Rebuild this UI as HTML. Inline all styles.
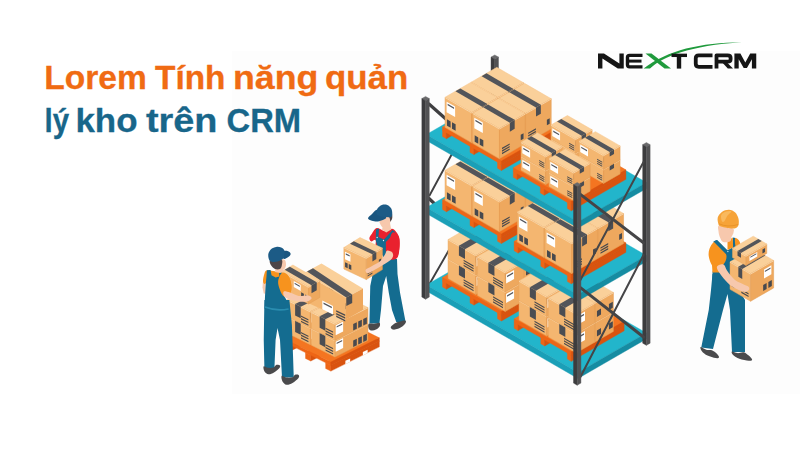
<!DOCTYPE html>
<html><head><meta charset="utf-8"><style>
html,body{margin:0;padding:0;background:#fff;}
body{width:800px;height:450px;overflow:hidden;position:relative;font-family:"Liberation Sans",sans-serif;}
svg{position:absolute;left:0;top:0;}
.t{position:absolute;left:48px;font-weight:bold;font-size:29px;white-space:nowrap;letter-spacing:-0.2px;}
</style></head><body>
<svg width="800" height="450" viewBox="0 0 800 450">
<rect width="800" height="450" fill="#ffffff"/>
<rect x="232" y="51" width="568" height="343" fill="#fdfdfd"/>
<polygon points="491.04,57.1 494.76,54.95 498.49,57.1 494.76,59.25" fill="#6a6a6c" stroke="#6a6a6c" stroke-width="0.4" stroke-linejoin="round"/>
<polygon points="491.04,57.1 494.76,59.25 494.76,257.75 491.04,255.6" fill="#3c3c3e" stroke="#3c3c3e" stroke-width="0.4" stroke-linejoin="round"/>
<polygon points="494.76,59.25 498.49,57.1 498.49,255.6 494.76,257.75" fill="#525254" stroke="#525254" stroke-width="0.4" stroke-linejoin="round"/>
<line x1="429" y1="104" x2="447" y2="120" stroke="#3f3f41" stroke-width="3.2" stroke-linecap="round"/>
<line x1="429.5" y1="195.5" x2="453" y2="152" stroke="#3f3f41" stroke-width="1.9" stroke-linecap="round"/>
<line x1="429" y1="198.5" x2="441" y2="210" stroke="#3f3f41" stroke-width="3.2" stroke-linecap="round"/>
<line x1="429.5" y1="284" x2="449" y2="250" stroke="#3f3f41" stroke-width="1.9" stroke-linecap="round"/>
<polygon points="426.43,285 494.85,245.5 646.4,333 577.99,372.5" fill="#22b5cb" stroke="#22b5cb" stroke-width="0.4" stroke-linejoin="round"/>
<polygon points="426.43,285 577.99,372.5 577.99,378.5 426.43,291" fill="#1a9fb7" stroke="#1a9fb7" stroke-width="0.4" stroke-linejoin="round"/>
<polygon points="577.99,372.5 646.4,333 646.4,339 577.99,378.5" fill="#158ca2" stroke="#158ca2" stroke-width="0.4" stroke-linejoin="round"/>
<polygon points="442.54,280.92 495.37,250.42 499.27,252.67 446.44,283.17" fill="#f47521" stroke="#f47521" stroke-width="0.4" stroke-linejoin="round"/>
<polygon points="442.54,280.92 446.44,283.17 446.44,289.25 442.54,287" fill="#ee6516" stroke="#ee6516" stroke-width="0.4" stroke-linejoin="round"/>
<polygon points="446.44,283.17 499.27,252.67 499.27,258.75 446.44,289.25" fill="#d9530f" stroke="#d9530f" stroke-width="0.4" stroke-linejoin="round"/>
<polygon points="470.04,296.8 522.87,266.3 526.76,268.55 473.94,299.05" fill="#f47521" stroke="#f47521" stroke-width="0.4" stroke-linejoin="round"/>
<polygon points="470.04,296.8 473.94,299.05 473.94,305.12 470.04,302.88" fill="#ee6516" stroke="#ee6516" stroke-width="0.4" stroke-linejoin="round"/>
<polygon points="473.94,299.05 526.76,268.55 526.76,274.62 473.94,305.12" fill="#d9530f" stroke="#d9530f" stroke-width="0.4" stroke-linejoin="round"/>
<polygon points="497.53,312.67 550.36,282.17 554.26,284.42 501.43,314.92" fill="#f47521" stroke="#f47521" stroke-width="0.4" stroke-linejoin="round"/>
<polygon points="497.53,312.67 501.43,314.92 501.43,321 497.53,318.75" fill="#ee6516" stroke="#ee6516" stroke-width="0.4" stroke-linejoin="round"/>
<polygon points="501.43,314.92 554.26,284.42 554.26,290.5 501.43,321" fill="#d9530f" stroke="#d9530f" stroke-width="0.4" stroke-linejoin="round"/>
<polygon points="442.54,277.5 495.37,247 554.26,281 501.43,311.5" fill="#f47521" stroke="#f47521" stroke-width="0.4" stroke-linejoin="round"/>
<polygon points="442.54,277.5 501.43,311.5 501.43,314.92 442.54,280.92" fill="#ee6516" stroke="#ee6516" stroke-width="0.4" stroke-linejoin="round"/>
<polygon points="501.43,311.5 554.26,281 554.26,284.42 501.43,314.92" fill="#d9530f" stroke="#d9530f" stroke-width="0.4" stroke-linejoin="round"/>
<polygon points="466.7,248.25 485.32,237.5 513.04,253.5 494.42,264.25" fill="#fad09a" stroke="#f6c58a" stroke-width="0.5" stroke-linejoin="round"/>
<polygon points="466.7,248.25 494.42,264.25 494.42,283.75 466.7,267.75" fill="#f4b670" stroke="#e9a75f" stroke-width="0.5" stroke-linejoin="round"/>
<polygon points="494.42,264.25 513.04,253.5 513.04,273 494.42,283.75" fill="#eea85e" stroke="#e39d54" stroke-width="0.5" stroke-linejoin="round"/>
<polyline points="466.7,248.55 494.42,264.55 513.04,253.8" fill="none" stroke="#fde2bd" stroke-width="0.7" stroke-linejoin="round"/>
<polygon points="477.53,254.5 496.15,243.75 502.21,247.25 483.59,258" fill="#53555a"/>
<polygon points="477.53,254.5 483.59,258 483.59,267.75 477.53,264.25" fill="#4b4d52"/>
<polygon points="496.58,272 500.65,269.65 500.65,275.65 496.58,278" fill="#47494e"/>
<polygon points="508.53,265.1 512.43,262.85 512.43,268.85 508.53,271.1" fill="#47494e"/>
<polygon points="466.7,228.75 485.32,218 513.04,234 494.42,244.75" fill="#fad09a" stroke="#f6c58a" stroke-width="0.5" stroke-linejoin="round"/>
<polygon points="466.7,228.75 494.42,244.75 494.42,264.25 466.7,248.25" fill="#f4b670" stroke="#e9a75f" stroke-width="0.5" stroke-linejoin="round"/>
<polygon points="494.42,244.75 513.04,234 513.04,253.5 494.42,264.25" fill="#eea85e" stroke="#e39d54" stroke-width="0.5" stroke-linejoin="round"/>
<polyline points="466.7,229.05 494.42,245.05 513.04,234.3" fill="none" stroke="#fde2bd" stroke-width="0.7" stroke-linejoin="round"/>
<polygon points="477.53,235 496.15,224.25 502.21,227.75 483.59,238.5" fill="#53555a"/>
<polygon points="477.53,235 483.59,238.5 483.59,248.25 477.53,244.75" fill="#4b4d52"/>
<polygon points="496.58,252.5 500.65,250.15 500.65,256.15 496.58,258.5" fill="#47494e"/>
<polygon points="508.53,245.6 512.43,243.35 512.43,249.35 508.53,251.6" fill="#47494e"/>
<polygon points="496.15,265.25 514.77,254.5 542.48,270.5 523.86,281.25" fill="#fad09a" stroke="#f6c58a" stroke-width="0.5" stroke-linejoin="round"/>
<polygon points="496.15,265.25 523.86,281.25 523.86,300.75 496.15,284.75" fill="#f4b670" stroke="#e9a75f" stroke-width="0.5" stroke-linejoin="round"/>
<polygon points="523.86,281.25 542.48,270.5 542.48,290 523.86,300.75" fill="#eea85e" stroke="#e39d54" stroke-width="0.5" stroke-linejoin="round"/>
<polyline points="496.15,265.55 523.86,281.55 542.48,270.8" fill="none" stroke="#fde2bd" stroke-width="0.7" stroke-linejoin="round"/>
<polygon points="506.97,271.5 525.59,260.75 531.66,264.25 513.04,275" fill="#53555a"/>
<polygon points="506.97,271.5 513.04,275 513.04,284.75 506.97,281.25" fill="#4b4d52"/>
<polygon points="526.03,289 530.1,286.65 530.1,292.65 526.03,295" fill="#47494e"/>
<polygon points="537.98,282.1 541.88,279.85 541.88,285.85 537.98,288.1" fill="#47494e"/>
<polygon points="496.15,245.75 514.77,235 542.48,251 523.86,261.75" fill="#fad09a" stroke="#f6c58a" stroke-width="0.5" stroke-linejoin="round"/>
<polygon points="496.15,245.75 523.86,261.75 523.86,281.25 496.15,265.25" fill="#f4b670" stroke="#e9a75f" stroke-width="0.5" stroke-linejoin="round"/>
<polygon points="523.86,261.75 542.48,251 542.48,270.5 523.86,281.25" fill="#eea85e" stroke="#e39d54" stroke-width="0.5" stroke-linejoin="round"/>
<polyline points="496.15,246.05 523.86,262.05 542.48,251.3" fill="none" stroke="#fde2bd" stroke-width="0.7" stroke-linejoin="round"/>
<polygon points="506.97,252 525.59,241.25 531.66,244.75 513.04,255.5" fill="#53555a"/>
<polygon points="506.97,252 513.04,255.5 513.04,265.25 506.97,261.75" fill="#4b4d52"/>
<polygon points="526.03,269.5 530.1,267.15 530.1,273.15 526.03,275.5" fill="#47494e"/>
<polygon points="537.98,262.6 541.88,260.35 541.88,266.35 537.98,268.6" fill="#47494e"/>
<polygon points="448.08,259 466.7,248.25 494.42,264.25 475.8,275" fill="#fad09a" stroke="#f6c58a" stroke-width="0.5" stroke-linejoin="round"/>
<polygon points="448.08,259 475.8,275 475.8,294.5 448.08,278.5" fill="#f4b670" stroke="#e9a75f" stroke-width="0.5" stroke-linejoin="round"/>
<polygon points="475.8,275 494.42,264.25 494.42,283.75 475.8,294.5" fill="#eea85e" stroke="#e39d54" stroke-width="0.5" stroke-linejoin="round"/>
<polyline points="448.08,259.3 475.8,275.3 494.42,264.55" fill="none" stroke="#fde2bd" stroke-width="0.7" stroke-linejoin="round"/>
<polygon points="458.91,265.25 477.53,254.5 483.59,258 464.97,268.75" fill="#53555a"/>
<polygon points="458.91,265.25 464.97,268.75 464.97,278.5 458.91,275" fill="#4b4d52"/>
<polygon points="476.66,277.1 484.63,272.5 484.63,281.5 476.66,286.1" fill="#ffffff"/>
<polygon points="477.62,278.25 483.68,274.75 483.68,276.25 477.62,279.75" fill="#55575d"/>
<polygon points="463.6,284.26 473.58,290.02 473.58,291.22 463.6,285.46" fill="#47494e"/>
<polygon points="463.6,281.76 473.58,287.52 473.58,288.72 463.6,282.96" fill="#47494e"/>
<polygon points="463.6,279.26 473.58,285.02 473.58,286.22 463.6,280.46" fill="#47494e"/>
<polygon points="448.08,239.5 466.7,228.75 494.42,244.75 475.8,255.5" fill="#fad09a" stroke="#f6c58a" stroke-width="0.5" stroke-linejoin="round"/>
<polygon points="448.08,239.5 475.8,255.5 475.8,275 448.08,259" fill="#f4b670" stroke="#e9a75f" stroke-width="0.5" stroke-linejoin="round"/>
<polygon points="475.8,255.5 494.42,244.75 494.42,264.25 475.8,275" fill="#eea85e" stroke="#e39d54" stroke-width="0.5" stroke-linejoin="round"/>
<polyline points="448.08,239.8 475.8,255.8 494.42,245.05" fill="none" stroke="#fde2bd" stroke-width="0.7" stroke-linejoin="round"/>
<polygon points="458.91,245.75 477.53,235 483.59,238.5 464.97,249.25" fill="#53555a"/>
<polygon points="458.91,245.75 464.97,249.25 464.97,259 458.91,255.5" fill="#4b4d52"/>
<polygon points="476.66,257.6 484.63,253 484.63,262 476.66,266.6" fill="#ffffff"/>
<polygon points="477.62,258.75 483.68,255.25 483.68,256.75 477.62,260.25" fill="#55575d"/>
<polygon points="463.6,264.76 473.58,270.52 473.58,271.72 463.6,265.96" fill="#47494e"/>
<polygon points="463.6,262.26 473.58,268.02 473.58,269.22 463.6,263.46" fill="#47494e"/>
<polygon points="463.6,259.76 473.58,265.52 473.58,266.72 463.6,260.96" fill="#47494e"/>
<polygon points="477.53,276 496.15,265.25 523.86,281.25 505.24,292" fill="#fad09a" stroke="#f6c58a" stroke-width="0.5" stroke-linejoin="round"/>
<polygon points="477.53,276 505.24,292 505.24,311.5 477.53,295.5" fill="#f4b670" stroke="#e9a75f" stroke-width="0.5" stroke-linejoin="round"/>
<polygon points="505.24,292 523.86,281.25 523.86,300.75 505.24,311.5" fill="#eea85e" stroke="#e39d54" stroke-width="0.5" stroke-linejoin="round"/>
<polyline points="477.53,276.3 505.24,292.3 523.86,281.55" fill="none" stroke="#fde2bd" stroke-width="0.7" stroke-linejoin="round"/>
<polygon points="488.35,282.25 506.97,271.5 513.04,275 494.42,285.75" fill="#53555a"/>
<polygon points="488.35,282.25 494.42,285.75 494.42,295.5 488.35,292" fill="#4b4d52"/>
<polygon points="506.11,294.1 514.08,289.5 514.08,298.5 506.11,303.1" fill="#ffffff"/>
<polygon points="507.06,295.25 513.12,291.75 513.12,293.25 507.06,296.75" fill="#55575d"/>
<polygon points="493.05,301.26 503.03,307.02 503.03,308.22 493.05,302.46" fill="#47494e"/>
<polygon points="493.05,298.76 503.03,304.52 503.03,305.72 493.05,299.96" fill="#47494e"/>
<polygon points="493.05,296.26 503.03,302.02 503.03,303.22 493.05,297.46" fill="#47494e"/>
<polygon points="477.53,256.5 496.15,245.75 523.86,261.75 505.24,272.5" fill="#fad09a" stroke="#f6c58a" stroke-width="0.5" stroke-linejoin="round"/>
<polygon points="477.53,256.5 505.24,272.5 505.24,292 477.53,276" fill="#f4b670" stroke="#e9a75f" stroke-width="0.5" stroke-linejoin="round"/>
<polygon points="505.24,272.5 523.86,261.75 523.86,281.25 505.24,292" fill="#eea85e" stroke="#e39d54" stroke-width="0.5" stroke-linejoin="round"/>
<polyline points="477.53,256.8 505.24,272.8 523.86,262.05" fill="none" stroke="#fde2bd" stroke-width="0.7" stroke-linejoin="round"/>
<polygon points="488.35,262.75 506.97,252 513.04,255.5 494.42,266.25" fill="#53555a"/>
<polygon points="488.35,262.75 494.42,266.25 494.42,276 488.35,272.5" fill="#4b4d52"/>
<polygon points="506.11,274.6 514.08,270 514.08,279 506.11,283.6" fill="#ffffff"/>
<polygon points="507.06,275.75 513.12,272.25 513.12,273.75 507.06,277.25" fill="#55575d"/>
<polygon points="493.05,281.76 503.03,287.52 503.03,288.72 493.05,282.96" fill="#47494e"/>
<polygon points="493.05,279.26 503.03,285.02 503.03,286.22 493.05,280.46" fill="#47494e"/>
<polygon points="493.05,276.76 503.03,282.52 503.03,283.72 493.05,277.96" fill="#47494e"/>
<polygon points="514.16,322.27 566.99,291.77 570.89,294.02 518.06,324.52" fill="#f47521" stroke="#f47521" stroke-width="0.4" stroke-linejoin="round"/>
<polygon points="514.16,322.27 518.06,324.52 518.06,330.6 514.16,328.35" fill="#ee6516" stroke="#ee6516" stroke-width="0.4" stroke-linejoin="round"/>
<polygon points="518.06,324.52 570.89,294.02 570.89,300.1 518.06,330.6" fill="#d9530f" stroke="#d9530f" stroke-width="0.4" stroke-linejoin="round"/>
<polygon points="540.79,337.65 593.62,307.15 597.52,309.4 544.69,339.9" fill="#f47521" stroke="#f47521" stroke-width="0.4" stroke-linejoin="round"/>
<polygon points="540.79,337.65 544.69,339.9 544.69,345.98 540.79,343.73" fill="#ee6516" stroke="#ee6516" stroke-width="0.4" stroke-linejoin="round"/>
<polygon points="544.69,339.9 597.52,309.4 597.52,315.48 544.69,345.98" fill="#d9530f" stroke="#d9530f" stroke-width="0.4" stroke-linejoin="round"/>
<polygon points="567.42,353.02 620.25,322.52 624.15,324.77 571.32,355.27" fill="#f47521" stroke="#f47521" stroke-width="0.4" stroke-linejoin="round"/>
<polygon points="567.42,353.02 571.32,355.27 571.32,361.35 567.42,359.1" fill="#ee6516" stroke="#ee6516" stroke-width="0.4" stroke-linejoin="round"/>
<polygon points="571.32,355.27 624.15,324.77 624.15,330.85 571.32,361.35" fill="#d9530f" stroke="#d9530f" stroke-width="0.4" stroke-linejoin="round"/>
<polygon points="514.16,318.85 566.99,288.35 624.15,321.35 571.32,351.85" fill="#f47521" stroke="#f47521" stroke-width="0.4" stroke-linejoin="round"/>
<polygon points="514.16,318.85 571.32,351.85 571.32,355.27 514.16,322.27" fill="#ee6516" stroke="#ee6516" stroke-width="0.4" stroke-linejoin="round"/>
<polygon points="571.32,351.85 624.15,321.35 624.15,324.77 571.32,355.27" fill="#d9530f" stroke="#d9530f" stroke-width="0.4" stroke-linejoin="round"/>
<polygon points="537.63,289.7 556.25,278.95 583.96,294.95 565.34,305.7" fill="#fad09a" stroke="#f6c58a" stroke-width="0.5" stroke-linejoin="round"/>
<polygon points="537.63,289.7 565.34,305.7 565.34,325.2 537.63,309.2" fill="#f4b670" stroke="#e9a75f" stroke-width="0.5" stroke-linejoin="round"/>
<polygon points="565.34,305.7 583.96,294.95 583.96,314.45 565.34,325.2" fill="#eea85e" stroke="#e39d54" stroke-width="0.5" stroke-linejoin="round"/>
<polyline points="537.63,290 565.34,306 583.96,295.25" fill="none" stroke="#fde2bd" stroke-width="0.7" stroke-linejoin="round"/>
<polygon points="548.46,295.95 567.08,285.2 573.14,288.7 554.52,299.45" fill="#53555a"/>
<polygon points="548.46,295.95 554.52,299.45 554.52,309.2 548.46,305.7" fill="#4b4d52"/>
<polygon points="567.51,313.45 571.58,311.1 571.58,317.1 567.51,319.45" fill="#47494e"/>
<polygon points="579.46,306.55 583.36,304.3 583.36,310.3 579.46,312.55" fill="#47494e"/>
<polygon points="537.63,270.2 556.25,259.45 583.96,275.45 565.34,286.2" fill="#fad09a" stroke="#f6c58a" stroke-width="0.5" stroke-linejoin="round"/>
<polygon points="537.63,270.2 565.34,286.2 565.34,305.7 537.63,289.7" fill="#f4b670" stroke="#e9a75f" stroke-width="0.5" stroke-linejoin="round"/>
<polygon points="565.34,286.2 583.96,275.45 583.96,294.95 565.34,305.7" fill="#eea85e" stroke="#e39d54" stroke-width="0.5" stroke-linejoin="round"/>
<polyline points="537.63,270.5 565.34,286.5 583.96,275.75" fill="none" stroke="#fde2bd" stroke-width="0.7" stroke-linejoin="round"/>
<polygon points="548.46,276.45 567.08,265.7 573.14,269.2 554.52,279.95" fill="#53555a"/>
<polygon points="548.46,276.45 554.52,279.95 554.52,289.7 548.46,286.2" fill="#4b4d52"/>
<polygon points="567.51,293.95 571.58,291.6 571.58,297.6 567.51,299.95" fill="#47494e"/>
<polygon points="579.46,287.05 583.36,284.8 583.36,290.8 579.46,293.05" fill="#47494e"/>
<polygon points="567.08,306.7 585.7,295.95 613.41,311.95 594.79,322.7" fill="#fad09a" stroke="#f6c58a" stroke-width="0.5" stroke-linejoin="round"/>
<polygon points="567.08,306.7 594.79,322.7 594.79,342.2 567.08,326.2" fill="#f4b670" stroke="#e9a75f" stroke-width="0.5" stroke-linejoin="round"/>
<polygon points="594.79,322.7 613.41,311.95 613.41,331.45 594.79,342.2" fill="#eea85e" stroke="#e39d54" stroke-width="0.5" stroke-linejoin="round"/>
<polyline points="567.08,307 594.79,323 613.41,312.25" fill="none" stroke="#fde2bd" stroke-width="0.7" stroke-linejoin="round"/>
<polygon points="577.9,312.95 596.52,302.2 602.58,305.7 583.96,316.45" fill="#53555a"/>
<polygon points="577.9,312.95 583.96,316.45 583.96,326.2 577.9,322.7" fill="#4b4d52"/>
<polygon points="596.95,330.45 601.02,328.1 601.02,334.1 596.95,336.45" fill="#47494e"/>
<polygon points="608.91,323.55 612.8,321.3 612.8,327.3 608.91,329.55" fill="#47494e"/>
<polygon points="567.08,287.2 585.7,276.45 613.41,292.45 594.79,303.2" fill="#fad09a" stroke="#f6c58a" stroke-width="0.5" stroke-linejoin="round"/>
<polygon points="567.08,287.2 594.79,303.2 594.79,322.7 567.08,306.7" fill="#f4b670" stroke="#e9a75f" stroke-width="0.5" stroke-linejoin="round"/>
<polygon points="594.79,303.2 613.41,292.45 613.41,311.95 594.79,322.7" fill="#eea85e" stroke="#e39d54" stroke-width="0.5" stroke-linejoin="round"/>
<polyline points="567.08,287.5 594.79,303.5 613.41,292.75" fill="none" stroke="#fde2bd" stroke-width="0.7" stroke-linejoin="round"/>
<polygon points="577.9,293.45 596.52,282.7 602.58,286.2 583.96,296.95" fill="#53555a"/>
<polygon points="577.9,293.45 583.96,296.95 583.96,306.7 577.9,303.2" fill="#4b4d52"/>
<polygon points="596.95,310.95 601.02,308.6 601.02,314.6 596.95,316.95" fill="#47494e"/>
<polygon points="608.91,304.05 612.8,301.8 612.8,307.8 608.91,310.05" fill="#47494e"/>
<polygon points="519.01,300.45 537.63,289.7 565.34,305.7 546.72,316.45" fill="#fad09a" stroke="#f6c58a" stroke-width="0.5" stroke-linejoin="round"/>
<polygon points="519.01,300.45 546.72,316.45 546.72,335.95 519.01,319.95" fill="#f4b670" stroke="#e9a75f" stroke-width="0.5" stroke-linejoin="round"/>
<polygon points="546.72,316.45 565.34,305.7 565.34,325.2 546.72,335.95" fill="#eea85e" stroke="#e39d54" stroke-width="0.5" stroke-linejoin="round"/>
<polyline points="519.01,300.75 546.72,316.75 565.34,306" fill="none" stroke="#fde2bd" stroke-width="0.7" stroke-linejoin="round"/>
<polygon points="529.84,306.7 548.46,295.95 554.52,299.45 535.9,310.2" fill="#53555a"/>
<polygon points="529.84,306.7 535.9,310.2 535.9,319.95 529.84,316.45" fill="#4b4d52"/>
<polygon points="547.59,318.55 555.56,313.95 555.56,322.95 547.59,327.55" fill="#ffffff"/>
<polygon points="548.54,319.7 554.61,316.2 554.61,317.7 548.54,321.2" fill="#55575d"/>
<polygon points="534.53,325.71 544.51,331.47 544.51,332.67 534.53,326.91" fill="#47494e"/>
<polygon points="534.53,323.21 544.51,328.97 544.51,330.17 534.53,324.41" fill="#47494e"/>
<polygon points="534.53,320.71 544.51,326.47 544.51,327.67 534.53,321.91" fill="#47494e"/>
<polygon points="519.01,280.95 537.63,270.2 565.34,286.2 546.72,296.95" fill="#fad09a" stroke="#f6c58a" stroke-width="0.5" stroke-linejoin="round"/>
<polygon points="519.01,280.95 546.72,296.95 546.72,316.45 519.01,300.45" fill="#f4b670" stroke="#e9a75f" stroke-width="0.5" stroke-linejoin="round"/>
<polygon points="546.72,296.95 565.34,286.2 565.34,305.7 546.72,316.45" fill="#eea85e" stroke="#e39d54" stroke-width="0.5" stroke-linejoin="round"/>
<polyline points="519.01,281.25 546.72,297.25 565.34,286.5" fill="none" stroke="#fde2bd" stroke-width="0.7" stroke-linejoin="round"/>
<polygon points="529.84,287.2 548.46,276.45 554.52,279.95 535.9,290.7" fill="#53555a"/>
<polygon points="529.84,287.2 535.9,290.7 535.9,300.45 529.84,296.95" fill="#4b4d52"/>
<polygon points="547.59,299.05 555.56,294.45 555.56,303.45 547.59,308.05" fill="#ffffff"/>
<polygon points="548.54,300.2 554.61,296.7 554.61,298.2 548.54,301.7" fill="#55575d"/>
<polygon points="534.53,306.21 544.51,311.97 544.51,313.17 534.53,307.41" fill="#47494e"/>
<polygon points="534.53,303.71 544.51,309.47 544.51,310.67 534.53,304.91" fill="#47494e"/>
<polygon points="534.53,301.21 544.51,306.97 544.51,308.17 534.53,302.41" fill="#47494e"/>
<polygon points="548.46,317.45 567.08,306.7 594.79,322.7 576.17,333.45" fill="#fad09a" stroke="#f6c58a" stroke-width="0.5" stroke-linejoin="round"/>
<polygon points="548.46,317.45 576.17,333.45 576.17,352.95 548.46,336.95" fill="#f4b670" stroke="#e9a75f" stroke-width="0.5" stroke-linejoin="round"/>
<polygon points="576.17,333.45 594.79,322.7 594.79,342.2 576.17,352.95" fill="#eea85e" stroke="#e39d54" stroke-width="0.5" stroke-linejoin="round"/>
<polyline points="548.46,317.75 576.17,333.75 594.79,323" fill="none" stroke="#fde2bd" stroke-width="0.7" stroke-linejoin="round"/>
<polygon points="559.28,323.7 577.9,312.95 583.96,316.45 565.34,327.2" fill="#53555a"/>
<polygon points="559.28,323.7 565.34,327.2 565.34,336.95 559.28,333.45" fill="#4b4d52"/>
<polygon points="577.04,335.55 585,330.95 585,339.95 577.04,344.55" fill="#ffffff"/>
<polygon points="577.99,336.7 584.05,333.2 584.05,334.7 577.99,338.2" fill="#55575d"/>
<polygon points="563.98,342.71 573.95,348.47 573.95,349.67 563.98,343.91" fill="#47494e"/>
<polygon points="563.98,340.21 573.95,345.97 573.95,347.17 563.98,341.41" fill="#47494e"/>
<polygon points="563.98,337.71 573.95,343.47 573.95,344.67 563.98,338.91" fill="#47494e"/>
<polygon points="548.46,297.95 567.08,287.2 594.79,303.2 576.17,313.95" fill="#fad09a" stroke="#f6c58a" stroke-width="0.5" stroke-linejoin="round"/>
<polygon points="548.46,297.95 576.17,313.95 576.17,333.45 548.46,317.45" fill="#f4b670" stroke="#e9a75f" stroke-width="0.5" stroke-linejoin="round"/>
<polygon points="576.17,313.95 594.79,303.2 594.79,322.7 576.17,333.45" fill="#eea85e" stroke="#e39d54" stroke-width="0.5" stroke-linejoin="round"/>
<polyline points="548.46,298.25 576.17,314.25 594.79,303.5" fill="none" stroke="#fde2bd" stroke-width="0.7" stroke-linejoin="round"/>
<polygon points="559.28,304.2 577.9,293.45 583.96,296.95 565.34,307.7" fill="#53555a"/>
<polygon points="559.28,304.2 565.34,307.7 565.34,317.45 559.28,313.95" fill="#4b4d52"/>
<polygon points="577.04,316.05 585,311.45 585,320.45 577.04,325.05" fill="#ffffff"/>
<polygon points="577.99,317.2 584.05,313.7 584.05,315.2 577.99,318.7" fill="#55575d"/>
<polygon points="563.98,323.21 573.95,328.97 573.95,330.17 563.98,324.41" fill="#47494e"/>
<polygon points="563.98,320.71 573.95,326.47 573.95,327.67 563.98,321.91" fill="#47494e"/>
<polygon points="563.98,318.21 573.95,323.97 573.95,325.17 563.98,319.41" fill="#47494e"/>
<polygon points="426.43,207.5 494.85,168 646.4,255.5 577.99,295" fill="#22b5cb" stroke="#22b5cb" stroke-width="0.4" stroke-linejoin="round"/>
<polygon points="426.43,207.5 577.99,295 577.99,301 426.43,213.5" fill="#1a9fb7" stroke="#1a9fb7" stroke-width="0.4" stroke-linejoin="round"/>
<polygon points="577.99,295 646.4,255.5 646.4,261.5 577.99,301" fill="#158ca2" stroke="#158ca2" stroke-width="0.4" stroke-linejoin="round"/>
<polygon points="442.54,203.42 497.1,171.92 501,174.17 446.44,205.67" fill="#f47521" stroke="#f47521" stroke-width="0.4" stroke-linejoin="round"/>
<polygon points="442.54,203.42 446.44,205.67 446.44,211.75 442.54,209.5" fill="#ee6516" stroke="#ee6516" stroke-width="0.4" stroke-linejoin="round"/>
<polygon points="446.44,205.67 501,174.17 501,180.25 446.44,211.75" fill="#d9530f" stroke="#d9530f" stroke-width="0.4" stroke-linejoin="round"/>
<polygon points="470.04,219.3 524.6,187.8 528.5,190.05 473.94,221.55" fill="#f47521" stroke="#f47521" stroke-width="0.4" stroke-linejoin="round"/>
<polygon points="470.04,219.3 473.94,221.55 473.94,227.62 470.04,225.38" fill="#ee6516" stroke="#ee6516" stroke-width="0.4" stroke-linejoin="round"/>
<polygon points="473.94,221.55 528.5,190.05 528.5,196.12 473.94,227.62" fill="#d9530f" stroke="#d9530f" stroke-width="0.4" stroke-linejoin="round"/>
<polygon points="497.53,235.17 552.09,203.67 555.99,205.92 501.43,237.42" fill="#f47521" stroke="#f47521" stroke-width="0.4" stroke-linejoin="round"/>
<polygon points="497.53,235.17 501.43,237.42 501.43,243.5 497.53,241.25" fill="#ee6516" stroke="#ee6516" stroke-width="0.4" stroke-linejoin="round"/>
<polygon points="501.43,237.42 555.99,205.92 555.99,212 501.43,243.5" fill="#d9530f" stroke="#d9530f" stroke-width="0.4" stroke-linejoin="round"/>
<polygon points="442.54,200 497.1,168.5 555.99,202.5 501.43,234" fill="#f47521" stroke="#f47521" stroke-width="0.4" stroke-linejoin="round"/>
<polygon points="442.54,200 501.43,234 501.43,237.42 442.54,203.42" fill="#ee6516" stroke="#ee6516" stroke-width="0.4" stroke-linejoin="round"/>
<polygon points="501.43,234 555.99,202.5 555.99,205.92 501.43,237.42" fill="#d9530f" stroke="#d9530f" stroke-width="0.4" stroke-linejoin="round"/>
<polygon points="471.21,155.15 496.84,140.35 523.52,155.75 497.88,170.55" fill="#fad09a" stroke="#f6c58a" stroke-width="0.5" stroke-linejoin="round"/>
<polygon points="471.21,155.15 497.88,170.55 497.88,200.55 471.21,185.15" fill="#f4b670" stroke="#e9a75f" stroke-width="0.5" stroke-linejoin="round"/>
<polygon points="497.88,170.55 523.52,155.75 523.52,185.75 497.88,200.55" fill="#eea85e" stroke="#e39d54" stroke-width="0.5" stroke-linejoin="round"/>
<polyline points="471.21,155.45 497.88,170.85 523.52,156.05" fill="none" stroke="#fde2bd" stroke-width="0.7" stroke-linejoin="round"/>
<polygon points="481.6,149.15 486.45,146.35 513.12,161.75 508.27,164.55" fill="#53555a"/>
<polygon points="508.27,164.55 513.12,161.75 513.12,170.75 508.27,173.55" fill="#4b4d52"/>
<polygon points="472.77,159.55 481.25,164.45 481.25,174.95 472.77,170.05" fill="#ffffff"/>
<polygon points="473.81,161.65 480.21,165.35 480.21,166.95 473.81,163.25" fill="#55575d"/>
<polygon points="473.11,177.25 476.75,179.35 476.75,185.75 473.11,183.65" fill="#47494e"/>
<polygon points="478.14,180.15 481.77,182.25 481.77,188.65 478.14,186.55" fill="#47494e"/>
<polygon points="500.44,194.77 508.13,190.33 508.13,191.63 500.44,196.07" fill="#47494e"/>
<polygon points="500.44,192.27 508.13,187.83 508.13,189.13 500.44,193.57" fill="#47494e"/>
<polygon points="500.44,189.77 508.13,185.33 508.13,186.63 500.44,191.07" fill="#47494e"/>
<polygon points="519.16,176.77 521.98,175.14 521.98,180.64 519.16,182.27" fill="#47494e"/>
<polygon points="498.92,171.15 524.55,156.35 551.23,171.75 525.59,186.55" fill="#fad09a" stroke="#f6c58a" stroke-width="0.5" stroke-linejoin="round"/>
<polygon points="498.92,171.15 525.59,186.55 525.59,216.55 498.92,201.15" fill="#f4b670" stroke="#e9a75f" stroke-width="0.5" stroke-linejoin="round"/>
<polygon points="525.59,186.55 551.23,171.75 551.23,201.75 525.59,216.55" fill="#eea85e" stroke="#e39d54" stroke-width="0.5" stroke-linejoin="round"/>
<polyline points="498.92,171.45 525.59,186.85 551.23,172.05" fill="none" stroke="#fde2bd" stroke-width="0.7" stroke-linejoin="round"/>
<polygon points="509.31,165.15 514.16,162.35 540.84,177.75 535.99,180.55" fill="#53555a"/>
<polygon points="535.99,180.55 540.84,177.75 540.84,186.75 535.99,189.55" fill="#4b4d52"/>
<polygon points="500.48,175.55 508.97,180.45 508.97,190.95 500.48,186.05" fill="#ffffff"/>
<polygon points="501.52,177.65 507.93,181.35 507.93,182.95 501.52,179.25" fill="#55575d"/>
<polygon points="500.83,193.25 504.46,195.35 504.46,201.75 500.83,199.65" fill="#47494e"/>
<polygon points="505.85,196.15 509.49,198.25 509.49,204.65 505.85,202.55" fill="#47494e"/>
<polygon points="528.16,210.77 535.85,206.33 535.85,207.63 528.16,212.07" fill="#47494e"/>
<polygon points="528.16,208.27 535.85,203.83 535.85,205.13 528.16,209.57" fill="#47494e"/>
<polygon points="528.16,205.77 535.85,201.33 535.85,202.63 528.16,207.07" fill="#47494e"/>
<polygon points="546.87,192.77 549.69,191.14 549.69,196.64 546.87,198.27" fill="#47494e"/>
<polygon points="445.05,170.25 470.69,155.45 497.36,170.85 471.73,185.65" fill="#fad09a" stroke="#f6c58a" stroke-width="0.5" stroke-linejoin="round"/>
<polygon points="445.05,170.25 471.73,185.65 471.73,215.65 445.05,200.25" fill="#f4b670" stroke="#e9a75f" stroke-width="0.5" stroke-linejoin="round"/>
<polygon points="471.73,185.65 497.36,170.85 497.36,200.85 471.73,215.65" fill="#eea85e" stroke="#e39d54" stroke-width="0.5" stroke-linejoin="round"/>
<polyline points="445.05,170.55 471.73,185.95 497.36,171.15" fill="none" stroke="#fde2bd" stroke-width="0.7" stroke-linejoin="round"/>
<polygon points="455.45,164.25 460.3,161.45 486.97,176.85 482.12,179.65" fill="#53555a"/>
<polygon points="482.12,179.65 486.97,176.85 486.97,185.85 482.12,188.65" fill="#4b4d52"/>
<polygon points="446.61,174.65 455.1,179.55 455.1,190.05 446.61,185.15" fill="#ffffff"/>
<polygon points="447.65,176.75 454.06,180.45 454.06,182.05 447.65,178.35" fill="#55575d"/>
<polygon points="446.96,192.35 450.6,194.45 450.6,200.85 446.96,198.75" fill="#47494e"/>
<polygon points="451.98,195.25 455.62,197.35 455.62,203.75 451.98,201.65" fill="#47494e"/>
<polygon points="474.29,209.87 481.98,205.43 481.98,206.73 474.29,211.17" fill="#47494e"/>
<polygon points="474.29,207.37 481.98,202.93 481.98,204.23 474.29,208.67" fill="#47494e"/>
<polygon points="474.29,204.87 481.98,200.43 481.98,201.73 474.29,206.17" fill="#47494e"/>
<polygon points="493,191.87 495.82,190.24 495.82,195.74 493,197.37" fill="#47494e"/>
<polygon points="472.77,186.25 498.4,171.45 525.07,186.85 499.44,201.65" fill="#fad09a" stroke="#f6c58a" stroke-width="0.5" stroke-linejoin="round"/>
<polygon points="472.77,186.25 499.44,201.65 499.44,231.65 472.77,216.25" fill="#f4b670" stroke="#e9a75f" stroke-width="0.5" stroke-linejoin="round"/>
<polygon points="499.44,201.65 525.07,186.85 525.07,216.85 499.44,231.65" fill="#eea85e" stroke="#e39d54" stroke-width="0.5" stroke-linejoin="round"/>
<polyline points="472.77,186.55 499.44,201.95 525.07,187.15" fill="none" stroke="#fde2bd" stroke-width="0.7" stroke-linejoin="round"/>
<polygon points="483.16,180.25 488.01,177.45 514.68,192.85 509.83,195.65" fill="#53555a"/>
<polygon points="509.83,195.65 514.68,192.85 514.68,201.85 509.83,204.65" fill="#4b4d52"/>
<polygon points="474.33,190.65 482.81,195.55 482.81,206.05 474.33,201.15" fill="#ffffff"/>
<polygon points="475.36,192.75 481.77,196.45 481.77,198.05 475.36,194.35" fill="#55575d"/>
<polygon points="474.67,208.35 478.31,210.45 478.31,216.85 474.67,214.75" fill="#47494e"/>
<polygon points="479.69,211.25 483.33,213.35 483.33,219.75 479.69,217.65" fill="#47494e"/>
<polygon points="502,225.87 509.69,221.43 509.69,222.73 502,227.17" fill="#47494e"/>
<polygon points="502,223.37 509.69,218.93 509.69,220.23 502,224.67" fill="#47494e"/>
<polygon points="502,220.87 509.69,216.43 509.69,217.73 502,222.17" fill="#47494e"/>
<polygon points="520.72,207.87 523.54,206.24 523.54,211.74 520.72,213.37" fill="#47494e"/>
<polygon points="514.16,244.77 568.72,213.27 572.62,215.52 518.06,247.02" fill="#f47521" stroke="#f47521" stroke-width="0.4" stroke-linejoin="round"/>
<polygon points="514.16,244.77 518.06,247.02 518.06,253.1 514.16,250.85" fill="#ee6516" stroke="#ee6516" stroke-width="0.4" stroke-linejoin="round"/>
<polygon points="518.06,247.02 572.62,215.52 572.62,221.6 518.06,253.1" fill="#d9530f" stroke="#d9530f" stroke-width="0.4" stroke-linejoin="round"/>
<polygon points="540.79,260.15 595.35,228.65 599.25,230.9 544.69,262.4" fill="#f47521" stroke="#f47521" stroke-width="0.4" stroke-linejoin="round"/>
<polygon points="540.79,260.15 544.69,262.4 544.69,268.48 540.79,266.23" fill="#ee6516" stroke="#ee6516" stroke-width="0.4" stroke-linejoin="round"/>
<polygon points="544.69,262.4 599.25,230.9 599.25,236.98 544.69,268.48" fill="#d9530f" stroke="#d9530f" stroke-width="0.4" stroke-linejoin="round"/>
<polygon points="567.42,275.52 621.98,244.02 625.88,246.27 571.32,277.77" fill="#f47521" stroke="#f47521" stroke-width="0.4" stroke-linejoin="round"/>
<polygon points="567.42,275.52 571.32,277.77 571.32,283.85 567.42,281.6" fill="#ee6516" stroke="#ee6516" stroke-width="0.4" stroke-linejoin="round"/>
<polygon points="571.32,277.77 625.88,246.27 625.88,252.35 571.32,283.85" fill="#d9530f" stroke="#d9530f" stroke-width="0.4" stroke-linejoin="round"/>
<polygon points="514.16,241.35 568.72,209.85 625.88,242.85 571.32,274.35" fill="#f47521" stroke="#f47521" stroke-width="0.4" stroke-linejoin="round"/>
<polygon points="514.16,241.35 571.32,274.35 571.32,277.77 514.16,244.77" fill="#ee6516" stroke="#ee6516" stroke-width="0.4" stroke-linejoin="round"/>
<polygon points="571.32,274.35 625.88,242.85 625.88,246.27 571.32,277.77" fill="#d9530f" stroke="#d9530f" stroke-width="0.4" stroke-linejoin="round"/>
<polygon points="543.52,196.9 569.15,182.1 595.83,197.5 570.19,212.3" fill="#fad09a" stroke="#f6c58a" stroke-width="0.5" stroke-linejoin="round"/>
<polygon points="543.52,196.9 570.19,212.3 570.19,242.3 543.52,226.9" fill="#f4b670" stroke="#e9a75f" stroke-width="0.5" stroke-linejoin="round"/>
<polygon points="570.19,212.3 595.83,197.5 595.83,227.5 570.19,242.3" fill="#eea85e" stroke="#e39d54" stroke-width="0.5" stroke-linejoin="round"/>
<polyline points="543.52,197.2 570.19,212.6 595.83,197.8" fill="none" stroke="#fde2bd" stroke-width="0.7" stroke-linejoin="round"/>
<polygon points="553.91,190.9 558.76,188.1 585.44,203.5 580.59,206.3" fill="#53555a"/>
<polygon points="580.59,206.3 585.44,203.5 585.44,212.5 580.59,215.3" fill="#4b4d52"/>
<polygon points="545.08,201.3 553.57,206.2 553.57,216.7 545.08,211.8" fill="#ffffff"/>
<polygon points="546.12,203.4 552.53,207.1 552.53,208.7 546.12,205" fill="#55575d"/>
<polygon points="545.43,219 549.06,221.1 549.06,227.5 545.43,225.4" fill="#47494e"/>
<polygon points="550.45,221.9 554.09,224 554.09,230.4 550.45,228.3" fill="#47494e"/>
<polygon points="572.76,236.52 580.45,232.08 580.45,233.38 572.76,237.82" fill="#47494e"/>
<polygon points="572.76,234.02 580.45,229.58 580.45,230.88 572.76,235.32" fill="#47494e"/>
<polygon points="572.76,231.52 580.45,227.08 580.45,228.38 572.76,232.82" fill="#47494e"/>
<polygon points="591.47,218.52 594.29,216.89 594.29,222.39 591.47,224.02" fill="#47494e"/>
<polygon points="571.23,212.9 596.87,198.1 623.54,213.5 597.91,228.3" fill="#fad09a" stroke="#f6c58a" stroke-width="0.5" stroke-linejoin="round"/>
<polygon points="571.23,212.9 597.91,228.3 597.91,258.3 571.23,242.9" fill="#f4b670" stroke="#e9a75f" stroke-width="0.5" stroke-linejoin="round"/>
<polygon points="597.91,228.3 623.54,213.5 623.54,243.5 597.91,258.3" fill="#eea85e" stroke="#e39d54" stroke-width="0.5" stroke-linejoin="round"/>
<polyline points="571.23,213.2 597.91,228.6 623.54,213.8" fill="none" stroke="#fde2bd" stroke-width="0.7" stroke-linejoin="round"/>
<polygon points="581.63,206.9 586.48,204.1 613.15,219.5 608.3,222.3" fill="#53555a"/>
<polygon points="608.3,222.3 613.15,219.5 613.15,228.5 608.3,231.3" fill="#4b4d52"/>
<polygon points="572.79,217.3 581.28,222.2 581.28,232.7 572.79,227.8" fill="#ffffff"/>
<polygon points="573.83,219.4 580.24,223.1 580.24,224.7 573.83,221" fill="#55575d"/>
<polygon points="573.14,235 576.78,237.1 576.78,243.5 573.14,241.4" fill="#47494e"/>
<polygon points="578.16,237.9 581.8,240 581.8,246.4 578.16,244.3" fill="#47494e"/>
<polygon points="600.47,252.52 608.16,248.08 608.16,249.38 600.47,253.82" fill="#47494e"/>
<polygon points="600.47,250.02 608.16,245.58 608.16,246.88 600.47,251.32" fill="#47494e"/>
<polygon points="600.47,247.52 608.16,243.08 608.16,244.38 600.47,248.82" fill="#47494e"/>
<polygon points="619.18,234.52 622,232.89 622,238.39 619.18,240.02" fill="#47494e"/>
<polygon points="517.37,212 543,197.2 569.67,212.6 544.04,227.4" fill="#fad09a" stroke="#f6c58a" stroke-width="0.5" stroke-linejoin="round"/>
<polygon points="517.37,212 544.04,227.4 544.04,257.4 517.37,242" fill="#f4b670" stroke="#e9a75f" stroke-width="0.5" stroke-linejoin="round"/>
<polygon points="544.04,227.4 569.67,212.6 569.67,242.6 544.04,257.4" fill="#eea85e" stroke="#e39d54" stroke-width="0.5" stroke-linejoin="round"/>
<polyline points="517.37,212.3 544.04,227.7 569.67,212.9" fill="none" stroke="#fde2bd" stroke-width="0.7" stroke-linejoin="round"/>
<polygon points="527.76,206 532.61,203.2 559.28,218.6 554.43,221.4" fill="#53555a"/>
<polygon points="554.43,221.4 559.28,218.6 559.28,227.6 554.43,230.4" fill="#4b4d52"/>
<polygon points="518.93,216.4 527.41,221.3 527.41,231.8 518.93,226.9" fill="#ffffff"/>
<polygon points="519.96,218.5 526.37,222.2 526.37,223.8 519.96,220.1" fill="#55575d"/>
<polygon points="519.27,234.1 522.91,236.2 522.91,242.6 519.27,240.5" fill="#47494e"/>
<polygon points="524.29,237 527.93,239.1 527.93,245.5 524.29,243.4" fill="#47494e"/>
<polygon points="546.6,251.62 554.29,247.18 554.29,248.48 546.6,252.92" fill="#47494e"/>
<polygon points="546.6,249.12 554.29,244.68 554.29,245.98 546.6,250.42" fill="#47494e"/>
<polygon points="546.6,246.62 554.29,242.18 554.29,243.48 546.6,247.92" fill="#47494e"/>
<polygon points="565.32,233.62 568.14,231.99 568.14,237.49 565.32,239.12" fill="#47494e"/>
<polygon points="545.08,228 570.71,213.2 597.39,228.6 571.75,243.4" fill="#fad09a" stroke="#f6c58a" stroke-width="0.5" stroke-linejoin="round"/>
<polygon points="545.08,228 571.75,243.4 571.75,273.4 545.08,258" fill="#f4b670" stroke="#e9a75f" stroke-width="0.5" stroke-linejoin="round"/>
<polygon points="571.75,243.4 597.39,228.6 597.39,258.6 571.75,273.4" fill="#eea85e" stroke="#e39d54" stroke-width="0.5" stroke-linejoin="round"/>
<polyline points="545.08,228.3 571.75,243.7 597.39,228.9" fill="none" stroke="#fde2bd" stroke-width="0.7" stroke-linejoin="round"/>
<polygon points="555.47,222 560.32,219.2 587,234.6 582.15,237.4" fill="#53555a"/>
<polygon points="582.15,237.4 587,234.6 587,243.6 582.15,246.4" fill="#4b4d52"/>
<polygon points="546.64,232.4 555.13,237.3 555.13,247.8 546.64,242.9" fill="#ffffff"/>
<polygon points="547.68,234.5 554.09,238.2 554.09,239.8 547.68,236.1" fill="#55575d"/>
<polygon points="546.98,250.1 550.62,252.2 550.62,258.6 546.98,256.5" fill="#47494e"/>
<polygon points="552.01,253 555.64,255.1 555.64,261.5 552.01,259.4" fill="#47494e"/>
<polygon points="574.32,267.62 582.01,263.18 582.01,264.48 574.32,268.92" fill="#47494e"/>
<polygon points="574.32,265.12 582.01,260.68 582.01,261.98 574.32,266.42" fill="#47494e"/>
<polygon points="574.32,262.62 582.01,258.18 582.01,259.48 574.32,263.92" fill="#47494e"/>
<polygon points="593.03,249.62 595.85,247.99 595.85,253.49 593.03,255.12" fill="#47494e"/>
<polygon points="426.43,134.5 494.85,95 646.4,182.5 577.99,222" fill="#22b5cb" stroke="#22b5cb" stroke-width="0.4" stroke-linejoin="round"/>
<polygon points="426.43,134.5 577.99,222 577.99,228 426.43,140.5" fill="#1a9fb7" stroke="#1a9fb7" stroke-width="0.4" stroke-linejoin="round"/>
<polygon points="577.99,222 646.4,182.5 646.4,188.5 577.99,228" fill="#158ca2" stroke="#158ca2" stroke-width="0.4" stroke-linejoin="round"/>
<polygon points="442.54,130.42 497.1,98.92 501,101.17 446.44,132.67" fill="#f47521" stroke="#f47521" stroke-width="0.4" stroke-linejoin="round"/>
<polygon points="442.54,130.42 446.44,132.67 446.44,138.75 442.54,136.5" fill="#ee6516" stroke="#ee6516" stroke-width="0.4" stroke-linejoin="round"/>
<polygon points="446.44,132.67 501,101.17 501,107.25 446.44,138.75" fill="#d9530f" stroke="#d9530f" stroke-width="0.4" stroke-linejoin="round"/>
<polygon points="470.04,146.29 524.6,114.79 528.5,117.04 473.94,148.54" fill="#f47521" stroke="#f47521" stroke-width="0.4" stroke-linejoin="round"/>
<polygon points="470.04,146.29 473.94,148.54 473.94,154.62 470.04,152.38" fill="#ee6516" stroke="#ee6516" stroke-width="0.4" stroke-linejoin="round"/>
<polygon points="473.94,148.54 528.5,117.04 528.5,123.12 473.94,154.62" fill="#d9530f" stroke="#d9530f" stroke-width="0.4" stroke-linejoin="round"/>
<polygon points="497.53,162.17 552.09,130.67 555.99,132.92 501.43,164.42" fill="#f47521" stroke="#f47521" stroke-width="0.4" stroke-linejoin="round"/>
<polygon points="497.53,162.17 501.43,164.42 501.43,170.5 497.53,168.25" fill="#ee6516" stroke="#ee6516" stroke-width="0.4" stroke-linejoin="round"/>
<polygon points="501.43,164.42 555.99,132.92 555.99,139 501.43,170.5" fill="#d9530f" stroke="#d9530f" stroke-width="0.4" stroke-linejoin="round"/>
<polygon points="442.54,127 497.1,95.5 555.99,129.5 501.43,161" fill="#f47521" stroke="#f47521" stroke-width="0.4" stroke-linejoin="round"/>
<polygon points="442.54,127 501.43,161 501.43,164.42 442.54,130.42" fill="#ee6516" stroke="#ee6516" stroke-width="0.4" stroke-linejoin="round"/>
<polygon points="501.43,161 555.99,129.5 555.99,132.92 501.43,164.42" fill="#d9530f" stroke="#d9530f" stroke-width="0.4" stroke-linejoin="round"/>
<polygon points="471.21,82.15 496.84,67.35 523.52,82.75 497.88,97.55" fill="#fad09a" stroke="#f6c58a" stroke-width="0.5" stroke-linejoin="round"/>
<polygon points="471.21,82.15 497.88,97.55 497.88,127.55 471.21,112.15" fill="#f4b670" stroke="#e9a75f" stroke-width="0.5" stroke-linejoin="round"/>
<polygon points="497.88,97.55 523.52,82.75 523.52,112.75 497.88,127.55" fill="#eea85e" stroke="#e39d54" stroke-width="0.5" stroke-linejoin="round"/>
<polyline points="471.21,82.45 497.88,97.85 523.52,83.05" fill="none" stroke="#fde2bd" stroke-width="0.7" stroke-linejoin="round"/>
<polygon points="481.6,76.15 486.45,73.35 513.12,88.75 508.27,91.55" fill="#53555a"/>
<polygon points="508.27,91.55 513.12,88.75 513.12,97.75 508.27,100.55" fill="#4b4d52"/>
<polygon points="472.77,86.55 481.25,91.45 481.25,101.95 472.77,97.05" fill="#ffffff"/>
<polygon points="473.81,88.65 480.21,92.35 480.21,93.95 473.81,90.25" fill="#55575d"/>
<polygon points="473.11,104.25 476.75,106.35 476.75,112.75 473.11,110.65" fill="#47494e"/>
<polygon points="478.14,107.15 481.77,109.25 481.77,115.65 478.14,113.55" fill="#47494e"/>
<polygon points="500.44,121.77 508.13,117.33 508.13,118.63 500.44,123.07" fill="#47494e"/>
<polygon points="500.44,119.27 508.13,114.83 508.13,116.13 500.44,120.57" fill="#47494e"/>
<polygon points="500.44,116.77 508.13,112.33 508.13,113.63 500.44,118.07" fill="#47494e"/>
<polygon points="519.16,103.77 521.98,102.14 521.98,107.64 519.16,109.27" fill="#47494e"/>
<polygon points="498.92,98.15 524.55,83.35 551.23,98.75 525.59,113.55" fill="#fad09a" stroke="#f6c58a" stroke-width="0.5" stroke-linejoin="round"/>
<polygon points="498.92,98.15 525.59,113.55 525.59,143.55 498.92,128.15" fill="#f4b670" stroke="#e9a75f" stroke-width="0.5" stroke-linejoin="round"/>
<polygon points="525.59,113.55 551.23,98.75 551.23,128.75 525.59,143.55" fill="#eea85e" stroke="#e39d54" stroke-width="0.5" stroke-linejoin="round"/>
<polyline points="498.92,98.45 525.59,113.85 551.23,99.05" fill="none" stroke="#fde2bd" stroke-width="0.7" stroke-linejoin="round"/>
<polygon points="509.31,92.15 514.16,89.35 540.84,104.75 535.99,107.55" fill="#53555a"/>
<polygon points="535.99,107.55 540.84,104.75 540.84,113.75 535.99,116.55" fill="#4b4d52"/>
<polygon points="500.48,102.55 508.97,107.45 508.97,117.95 500.48,113.05" fill="#ffffff"/>
<polygon points="501.52,104.65 507.93,108.35 507.93,109.95 501.52,106.25" fill="#55575d"/>
<polygon points="500.83,120.25 504.46,122.35 504.46,128.75 500.83,126.65" fill="#47494e"/>
<polygon points="505.85,123.15 509.49,125.25 509.49,131.65 505.85,129.55" fill="#47494e"/>
<polygon points="528.16,137.77 535.85,133.33 535.85,134.63 528.16,139.07" fill="#47494e"/>
<polygon points="528.16,135.27 535.85,130.83 535.85,132.13 528.16,136.57" fill="#47494e"/>
<polygon points="528.16,132.77 535.85,128.33 535.85,129.63 528.16,134.07" fill="#47494e"/>
<polygon points="546.87,119.77 549.69,118.14 549.69,123.64 546.87,125.27" fill="#47494e"/>
<polygon points="445.05,97.25 470.69,82.45 497.36,97.85 471.73,112.65" fill="#fad09a" stroke="#f6c58a" stroke-width="0.5" stroke-linejoin="round"/>
<polygon points="445.05,97.25 471.73,112.65 471.73,142.65 445.05,127.25" fill="#f4b670" stroke="#e9a75f" stroke-width="0.5" stroke-linejoin="round"/>
<polygon points="471.73,112.65 497.36,97.85 497.36,127.85 471.73,142.65" fill="#eea85e" stroke="#e39d54" stroke-width="0.5" stroke-linejoin="round"/>
<polyline points="445.05,97.55 471.73,112.95 497.36,98.15" fill="none" stroke="#fde2bd" stroke-width="0.7" stroke-linejoin="round"/>
<polygon points="455.45,91.25 460.3,88.45 486.97,103.85 482.12,106.65" fill="#53555a"/>
<polygon points="482.12,106.65 486.97,103.85 486.97,112.85 482.12,115.65" fill="#4b4d52"/>
<polygon points="446.61,101.65 455.1,106.55 455.1,117.05 446.61,112.15" fill="#ffffff"/>
<polygon points="447.65,103.75 454.06,107.45 454.06,109.05 447.65,105.35" fill="#55575d"/>
<polygon points="446.96,119.35 450.6,121.45 450.6,127.85 446.96,125.75" fill="#47494e"/>
<polygon points="451.98,122.25 455.62,124.35 455.62,130.75 451.98,128.65" fill="#47494e"/>
<polygon points="474.29,136.87 481.98,132.43 481.98,133.73 474.29,138.17" fill="#47494e"/>
<polygon points="474.29,134.37 481.98,129.93 481.98,131.23 474.29,135.67" fill="#47494e"/>
<polygon points="474.29,131.87 481.98,127.43 481.98,128.73 474.29,133.17" fill="#47494e"/>
<polygon points="493,118.87 495.82,117.24 495.82,122.74 493,124.37" fill="#47494e"/>
<polygon points="472.77,113.25 498.4,98.45 525.07,113.85 499.44,128.65" fill="#fad09a" stroke="#f6c58a" stroke-width="0.5" stroke-linejoin="round"/>
<polygon points="472.77,113.25 499.44,128.65 499.44,158.65 472.77,143.25" fill="#f4b670" stroke="#e9a75f" stroke-width="0.5" stroke-linejoin="round"/>
<polygon points="499.44,128.65 525.07,113.85 525.07,143.85 499.44,158.65" fill="#eea85e" stroke="#e39d54" stroke-width="0.5" stroke-linejoin="round"/>
<polyline points="472.77,113.55 499.44,128.95 525.07,114.15" fill="none" stroke="#fde2bd" stroke-width="0.7" stroke-linejoin="round"/>
<polygon points="483.16,107.25 488.01,104.45 514.68,119.85 509.83,122.65" fill="#53555a"/>
<polygon points="509.83,122.65 514.68,119.85 514.68,128.85 509.83,131.65" fill="#4b4d52"/>
<polygon points="474.33,117.65 482.81,122.55 482.81,133.05 474.33,128.15" fill="#ffffff"/>
<polygon points="475.36,119.75 481.77,123.45 481.77,125.05 475.36,121.35" fill="#55575d"/>
<polygon points="474.67,135.35 478.31,137.45 478.31,143.85 474.67,141.75" fill="#47494e"/>
<polygon points="479.69,138.25 483.33,140.35 483.33,146.75 479.69,144.65" fill="#47494e"/>
<polygon points="502,152.87 509.69,148.43 509.69,149.73 502,154.17" fill="#47494e"/>
<polygon points="502,150.37 509.69,145.93 509.69,147.23 502,151.67" fill="#47494e"/>
<polygon points="502,147.87 509.69,143.43 509.69,144.73 502,149.17" fill="#47494e"/>
<polygon points="520.72,134.87 523.54,133.24 523.54,138.74 520.72,140.37" fill="#47494e"/>
<polygon points="513.3,171.27 567.86,139.77 571.75,142.02 517.19,173.52" fill="#f47521" stroke="#f47521" stroke-width="0.4" stroke-linejoin="round"/>
<polygon points="513.3,171.27 517.19,173.52 517.19,179.6 513.3,177.35" fill="#ee6516" stroke="#ee6516" stroke-width="0.4" stroke-linejoin="round"/>
<polygon points="517.19,173.52 571.75,142.02 571.75,148.1 517.19,179.6" fill="#d9530f" stroke="#d9530f" stroke-width="0.4" stroke-linejoin="round"/>
<polygon points="540.36,186.9 594.92,155.4 598.82,157.65 544.26,189.15" fill="#f47521" stroke="#f47521" stroke-width="0.4" stroke-linejoin="round"/>
<polygon points="540.36,186.9 544.26,189.15 544.26,195.23 540.36,192.98" fill="#ee6516" stroke="#ee6516" stroke-width="0.4" stroke-linejoin="round"/>
<polygon points="544.26,189.15 598.82,157.65 598.82,163.73 544.26,195.23" fill="#d9530f" stroke="#d9530f" stroke-width="0.4" stroke-linejoin="round"/>
<polygon points="567.42,202.52 621.98,171.02 625.88,173.27 571.32,204.77" fill="#f47521" stroke="#f47521" stroke-width="0.4" stroke-linejoin="round"/>
<polygon points="567.42,202.52 571.32,204.77 571.32,210.85 567.42,208.6" fill="#ee6516" stroke="#ee6516" stroke-width="0.4" stroke-linejoin="round"/>
<polygon points="571.32,204.77 625.88,173.27 625.88,179.35 571.32,210.85" fill="#d9530f" stroke="#d9530f" stroke-width="0.4" stroke-linejoin="round"/>
<polygon points="513.3,167.85 567.86,136.35 625.88,169.85 571.32,201.35" fill="#f47521" stroke="#f47521" stroke-width="0.4" stroke-linejoin="round"/>
<polygon points="513.3,167.85 571.32,201.35 571.32,204.77 513.3,171.27" fill="#ee6516" stroke="#ee6516" stroke-width="0.4" stroke-linejoin="round"/>
<polygon points="571.32,201.35 625.88,169.85 625.88,173.27 571.32,204.77" fill="#d9530f" stroke="#d9530f" stroke-width="0.4" stroke-linejoin="round"/>
<polygon points="550.97,139 567.42,129.5 592.1,143.75 575.65,153.25" fill="#fad09a" stroke="#f6c58a" stroke-width="0.5" stroke-linejoin="round"/>
<polygon points="550.97,139 575.65,153.25 575.65,167.25 550.97,153" fill="#f4b670" stroke="#e9a75f" stroke-width="0.5" stroke-linejoin="round"/>
<polygon points="575.65,153.25 592.1,143.75 592.1,157.75 575.65,167.25" fill="#eea85e" stroke="#e39d54" stroke-width="0.5" stroke-linejoin="round"/>
<polyline points="550.97,139.3 575.65,153.55 592.1,144.05" fill="none" stroke="#fde2bd" stroke-width="0.7" stroke-linejoin="round"/>
<polygon points="557.03,135.5 561.36,133 586.04,147.25 581.71,149.75" fill="#53555a"/>
<polygon points="581.71,149.75 586.04,147.25 586.04,151.87 581.71,154.37" fill="#4b4d52"/>
<polygon points="552.27,142.35 560.06,146.85 560.06,154.45 552.27,149.95" fill="#ffffff"/>
<polygon points="553.22,144.5 559.11,147.9 559.11,149.3 553.22,145.9" fill="#55575d"/>
<polygon points="569.15,160.7 574.26,163.65 574.26,164.65 569.15,161.7" fill="#47494e"/>
<polygon points="569.15,158.7 574.26,161.65 574.26,162.65 569.15,159.7" fill="#47494e"/>
<polygon points="569.15,156.7 574.26,159.65 574.26,160.65 569.15,157.7" fill="#47494e"/>
<polygon points="550.97,125 567.42,115.5 592.1,129.75 575.65,139.25" fill="#fad09a" stroke="#f6c58a" stroke-width="0.5" stroke-linejoin="round"/>
<polygon points="550.97,125 575.65,139.25 575.65,153.25 550.97,139" fill="#f4b670" stroke="#e9a75f" stroke-width="0.5" stroke-linejoin="round"/>
<polygon points="575.65,139.25 592.1,129.75 592.1,143.75 575.65,153.25" fill="#eea85e" stroke="#e39d54" stroke-width="0.5" stroke-linejoin="round"/>
<polyline points="550.97,125.3 575.65,139.55 592.1,130.05" fill="none" stroke="#fde2bd" stroke-width="0.7" stroke-linejoin="round"/>
<polygon points="557.03,121.5 561.36,119 586.04,133.25 581.71,135.75" fill="#53555a"/>
<polygon points="581.71,135.75 586.04,133.25 586.04,137.87 581.71,140.37" fill="#4b4d52"/>
<polygon points="552.27,128.35 560.06,132.85 560.06,140.45 552.27,135.95" fill="#ffffff"/>
<polygon points="553.22,130.5 559.11,133.9 559.11,135.3 553.22,131.9" fill="#55575d"/>
<polygon points="569.15,146.7 574.26,149.65 574.26,150.65 569.15,147.7" fill="#47494e"/>
<polygon points="569.15,144.7 574.26,147.65 574.26,148.65 569.15,145.7" fill="#47494e"/>
<polygon points="569.15,142.7 574.26,145.65 574.26,146.65 569.15,143.7" fill="#47494e"/>
<polygon points="578.94,155.15 595.4,145.65 620.08,159.9 603.62,169.4" fill="#fad09a" stroke="#f6c58a" stroke-width="0.5" stroke-linejoin="round"/>
<polygon points="578.94,155.15 603.62,169.4 603.62,183.4 578.94,169.15" fill="#f4b670" stroke="#e9a75f" stroke-width="0.5" stroke-linejoin="round"/>
<polygon points="603.62,169.4 620.08,159.9 620.08,173.9 603.62,183.4" fill="#eea85e" stroke="#e39d54" stroke-width="0.5" stroke-linejoin="round"/>
<polyline points="578.94,155.45 603.62,169.7 620.08,160.2" fill="none" stroke="#fde2bd" stroke-width="0.7" stroke-linejoin="round"/>
<polygon points="585,151.65 589.33,149.15 614.02,163.4 609.68,165.9" fill="#53555a"/>
<polygon points="609.68,165.9 614.02,163.4 614.02,168.02 609.68,170.52" fill="#4b4d52"/>
<polygon points="580.24,158.5 588.03,163 588.03,170.6 580.24,166.1" fill="#ffffff"/>
<polygon points="581.19,160.65 587.08,164.05 587.08,165.45 581.19,162.05" fill="#55575d"/>
<polygon points="597.13,176.85 602.24,179.8 602.24,180.8 597.13,177.85" fill="#47494e"/>
<polygon points="597.13,174.85 602.24,177.8 602.24,178.8 597.13,175.85" fill="#47494e"/>
<polygon points="597.13,172.85 602.24,175.8 602.24,176.8 597.13,173.85" fill="#47494e"/>
<polygon points="578.94,141.15 595.4,131.65 620.08,145.9 603.62,155.4" fill="#fad09a" stroke="#f6c58a" stroke-width="0.5" stroke-linejoin="round"/>
<polygon points="578.94,141.15 603.62,155.4 603.62,169.4 578.94,155.15" fill="#f4b670" stroke="#e9a75f" stroke-width="0.5" stroke-linejoin="round"/>
<polygon points="603.62,155.4 620.08,145.9 620.08,159.9 603.62,169.4" fill="#eea85e" stroke="#e39d54" stroke-width="0.5" stroke-linejoin="round"/>
<polyline points="578.94,141.45 603.62,155.7 620.08,146.2" fill="none" stroke="#fde2bd" stroke-width="0.7" stroke-linejoin="round"/>
<polygon points="585,137.65 589.33,135.15 614.02,149.4 609.68,151.9" fill="#53555a"/>
<polygon points="609.68,151.9 614.02,149.4 614.02,154.02 609.68,156.52" fill="#4b4d52"/>
<polygon points="580.24,144.5 588.03,149 588.03,156.6 580.24,152.1" fill="#ffffff"/>
<polygon points="581.19,146.65 587.08,150.05 587.08,151.45 581.19,148.05" fill="#55575d"/>
<polygon points="597.13,162.85 602.24,165.8 602.24,166.8 597.13,163.85" fill="#47494e"/>
<polygon points="597.13,160.85 602.24,163.8 602.24,164.8 597.13,161.85" fill="#47494e"/>
<polygon points="597.13,158.85 602.24,161.8 602.24,162.8 597.13,159.85" fill="#47494e"/>
<polygon points="521,156.3 537.46,146.8 562.14,161.05 545.69,170.55" fill="#fad09a" stroke="#f6c58a" stroke-width="0.5" stroke-linejoin="round"/>
<polygon points="521,156.3 545.69,170.55 545.69,184.55 521,170.3" fill="#f4b670" stroke="#e9a75f" stroke-width="0.5" stroke-linejoin="round"/>
<polygon points="545.69,170.55 562.14,161.05 562.14,175.05 545.69,184.55" fill="#eea85e" stroke="#e39d54" stroke-width="0.5" stroke-linejoin="round"/>
<polyline points="521,156.6 545.69,170.85 562.14,161.35" fill="none" stroke="#fde2bd" stroke-width="0.7" stroke-linejoin="round"/>
<polygon points="527.07,152.8 531.4,150.3 556.08,164.55 551.75,167.05" fill="#53555a"/>
<polygon points="551.75,167.05 556.08,164.55 556.08,169.17 551.75,171.67" fill="#4b4d52"/>
<polygon points="522.3,159.65 530.1,164.15 530.1,171.75 522.3,167.25" fill="#ffffff"/>
<polygon points="523.26,161.8 529.14,165.2 529.14,166.6 523.26,163.2" fill="#55575d"/>
<polygon points="539.19,178 544.3,180.95 544.3,181.95 539.19,179" fill="#47494e"/>
<polygon points="539.19,176 544.3,178.95 544.3,179.95 539.19,177" fill="#47494e"/>
<polygon points="539.19,174 544.3,176.95 544.3,177.95 539.19,175" fill="#47494e"/>
<polygon points="521,142.3 537.46,132.8 562.14,147.05 545.69,156.55" fill="#fad09a" stroke="#f6c58a" stroke-width="0.5" stroke-linejoin="round"/>
<polygon points="521,142.3 545.69,156.55 545.69,170.55 521,156.3" fill="#f4b670" stroke="#e9a75f" stroke-width="0.5" stroke-linejoin="round"/>
<polygon points="545.69,156.55 562.14,147.05 562.14,161.05 545.69,170.55" fill="#eea85e" stroke="#e39d54" stroke-width="0.5" stroke-linejoin="round"/>
<polyline points="521,142.6 545.69,156.85 562.14,147.35" fill="none" stroke="#fde2bd" stroke-width="0.7" stroke-linejoin="round"/>
<polygon points="527.07,138.8 531.4,136.3 556.08,150.55 551.75,153.05" fill="#53555a"/>
<polygon points="551.75,153.05 556.08,150.55 556.08,155.17 551.75,157.67" fill="#4b4d52"/>
<polygon points="522.3,145.65 530.1,150.15 530.1,157.75 522.3,153.25" fill="#ffffff"/>
<polygon points="523.26,147.8 529.14,151.2 529.14,152.6 523.26,149.2" fill="#55575d"/>
<polygon points="539.19,164 544.3,166.95 544.3,167.95 539.19,165" fill="#47494e"/>
<polygon points="539.19,162 544.3,164.95 544.3,165.95 539.19,163" fill="#47494e"/>
<polygon points="539.19,160 544.3,162.95 544.3,163.95 539.19,161" fill="#47494e"/>
<polygon points="548.98,172.45 565.43,162.95 590.11,177.2 573.66,186.7" fill="#fad09a" stroke="#f6c58a" stroke-width="0.5" stroke-linejoin="round"/>
<polygon points="548.98,172.45 573.66,186.7 573.66,200.7 548.98,186.45" fill="#f4b670" stroke="#e9a75f" stroke-width="0.5" stroke-linejoin="round"/>
<polygon points="573.66,186.7 590.11,177.2 590.11,191.2 573.66,200.7" fill="#eea85e" stroke="#e39d54" stroke-width="0.5" stroke-linejoin="round"/>
<polyline points="548.98,172.75 573.66,187 590.11,177.5" fill="none" stroke="#fde2bd" stroke-width="0.7" stroke-linejoin="round"/>
<polygon points="555.04,168.95 559.37,166.45 584.05,180.7 579.72,183.2" fill="#53555a"/>
<polygon points="579.72,183.2 584.05,180.7 584.05,185.32 579.72,187.82" fill="#4b4d52"/>
<polygon points="550.28,175.8 558.07,180.3 558.07,187.9 550.28,183.4" fill="#ffffff"/>
<polygon points="551.23,177.95 557.12,181.35 557.12,182.75 551.23,179.35" fill="#55575d"/>
<polygon points="567.16,194.15 572.27,197.1 572.27,198.1 567.16,195.15" fill="#47494e"/>
<polygon points="567.16,192.15 572.27,195.1 572.27,196.1 567.16,193.15" fill="#47494e"/>
<polygon points="567.16,190.15 572.27,193.1 572.27,194.1 567.16,191.15" fill="#47494e"/>
<polygon points="548.98,158.45 565.43,148.95 590.11,163.2 573.66,172.7" fill="#fad09a" stroke="#f6c58a" stroke-width="0.5" stroke-linejoin="round"/>
<polygon points="548.98,158.45 573.66,172.7 573.66,186.7 548.98,172.45" fill="#f4b670" stroke="#e9a75f" stroke-width="0.5" stroke-linejoin="round"/>
<polygon points="573.66,172.7 590.11,163.2 590.11,177.2 573.66,186.7" fill="#eea85e" stroke="#e39d54" stroke-width="0.5" stroke-linejoin="round"/>
<polyline points="548.98,158.75 573.66,173 590.11,163.5" fill="none" stroke="#fde2bd" stroke-width="0.7" stroke-linejoin="round"/>
<polygon points="555.04,154.95 559.37,152.45 584.05,166.7 579.72,169.2" fill="#53555a"/>
<polygon points="579.72,169.2 584.05,166.7 584.05,171.32 579.72,173.82" fill="#4b4d52"/>
<polygon points="550.28,161.8 558.07,166.3 558.07,173.9 550.28,169.4" fill="#ffffff"/>
<polygon points="551.23,163.95 557.12,167.35 557.12,168.75 551.23,165.35" fill="#55575d"/>
<polygon points="567.16,180.15 572.27,183.1 572.27,184.1 567.16,181.15" fill="#47494e"/>
<polygon points="567.16,178.15 572.27,181.1 572.27,182.1 567.16,179.15" fill="#47494e"/>
<polygon points="567.16,176.15 572.27,179.1 572.27,180.1 567.16,177.15" fill="#47494e"/>
<polygon points="642.68,144.65 646.4,142.5 650.13,144.65 646.4,146.8" fill="#6a6a6c" stroke="#6a6a6c" stroke-width="0.4" stroke-linejoin="round"/>
<polygon points="642.68,144.65 646.4,146.8 646.4,345.3 642.68,343.15" fill="#3c3c3e" stroke="#3c3c3e" stroke-width="0.4" stroke-linejoin="round"/>
<polygon points="646.4,146.8 650.13,144.65 650.13,343.15 646.4,345.3" fill="#525254" stroke="#525254" stroke-width="0.4" stroke-linejoin="round"/>
<line x1="580.4" y1="194.4" x2="643.5" y2="242.7" stroke="#454547" stroke-width="3" stroke-linecap="round"/>
<line x1="643.5" y1="162" x2="580.4" y2="280" stroke="#454547" stroke-width="2" stroke-linecap="round"/>
<line x1="580.4" y1="287.6" x2="643.5" y2="337" stroke="#454547" stroke-width="3" stroke-linecap="round"/>
<line x1="643.5" y1="255" x2="580.4" y2="377" stroke="#454547" stroke-width="2" stroke-linecap="round"/>
<polygon points="421.84,98.55 425.57,96.4 429.29,98.55 425.57,100.7" fill="#6a6a6c" stroke="#6a6a6c" stroke-width="0.4" stroke-linejoin="round"/>
<polygon points="421.84,98.55 425.57,100.7 425.57,299.2 421.84,297.05" fill="#3c3c3e" stroke="#3c3c3e" stroke-width="0.4" stroke-linejoin="round"/>
<polygon points="425.57,100.7 429.29,98.55 429.29,297.05 425.57,299.2" fill="#525254" stroke="#525254" stroke-width="0.4" stroke-linejoin="round"/>
<polygon points="573.49,184.6 577.21,182.45 580.93,184.6 577.21,186.75" fill="#6a6a6c" stroke="#6a6a6c" stroke-width="0.4" stroke-linejoin="round"/>
<polygon points="573.49,184.6 577.21,186.75 577.21,385.25 573.49,383.1" fill="#3c3c3e" stroke="#3c3c3e" stroke-width="0.4" stroke-linejoin="round"/>
<polygon points="577.21,186.75 580.93,184.6 580.93,383.1 577.21,385.25" fill="#525254" stroke="#525254" stroke-width="0.4" stroke-linejoin="round"/>
<polygon points="285.38,342.62 333.87,318.37 339.07,320.97 290.57,345.21" fill="#f47521" stroke="#f47521" stroke-width="0.4" stroke-linejoin="round"/>
<polygon points="285.38,342.62 290.57,345.21 290.57,350.97 285.38,348.38" fill="#ee6516" stroke="#ee6516" stroke-width="0.4" stroke-linejoin="round"/>
<polygon points="290.57,345.21 339.07,320.97 339.07,326.73 290.57,350.97" fill="#d9530f" stroke="#d9530f" stroke-width="0.4" stroke-linejoin="round"/>
<polygon points="305.51,352.68 354.01,328.44 359.21,331.03 310.71,355.28" fill="#f47521" stroke="#f47521" stroke-width="0.4" stroke-linejoin="round"/>
<polygon points="305.51,352.68 310.71,355.28 310.71,361.04 305.51,358.44" fill="#ee6516" stroke="#ee6516" stroke-width="0.4" stroke-linejoin="round"/>
<polygon points="310.71,355.28 359.21,331.03 359.21,336.79 310.71,361.04" fill="#d9530f" stroke="#d9530f" stroke-width="0.4" stroke-linejoin="round"/>
<polygon points="325.65,362.75 374.14,338.5 379.34,341.1 330.84,365.35" fill="#f47521" stroke="#f47521" stroke-width="0.4" stroke-linejoin="round"/>
<polygon points="325.65,362.75 330.84,365.35 330.84,371.11 325.65,368.51" fill="#ee6516" stroke="#ee6516" stroke-width="0.4" stroke-linejoin="round"/>
<polygon points="330.84,365.35 379.34,341.1 379.34,346.86 330.84,371.11" fill="#d9530f" stroke="#d9530f" stroke-width="0.4" stroke-linejoin="round"/>
<polygon points="345.39,360.83 350.16,358.45 350.16,361.75 345.39,364.13" fill="#fdfdfd"/>
<polygon points="362.85,352.11 367.61,349.72 367.61,353.02 362.85,355.41" fill="#fdfdfd"/>
<polygon points="285.38,339.38 333.87,315.13 379.34,337.86 330.84,362.11" fill="#f47521" stroke="#f47521" stroke-width="0.4" stroke-linejoin="round"/>
<polygon points="285.38,339.38 330.84,362.11 330.84,365.35 285.38,342.62" fill="#ee6516" stroke="#ee6516" stroke-width="0.4" stroke-linejoin="round"/>
<polygon points="330.84,362.11 379.34,337.86 379.34,341.1 330.84,365.35" fill="#d9530f" stroke="#d9530f" stroke-width="0.4" stroke-linejoin="round"/>
<polygon points="286.94,316.47 319.84,300.01 343.23,311.7 310.32,328.16" fill="#fad09a" stroke="#f6c58a" stroke-width="0.5" stroke-linejoin="round"/>
<polygon points="286.94,316.47 310.32,328.16 310.32,344.66 286.94,332.97" fill="#f4b670" stroke="#e9a75f" stroke-width="0.5" stroke-linejoin="round"/>
<polygon points="310.32,328.16 343.23,311.7 343.23,328.2 310.32,344.66" fill="#eea85e" stroke="#e39d54" stroke-width="0.5" stroke-linejoin="round"/>
<polyline points="286.94,316.77 310.32,328.46 343.23,312" fill="none" stroke="#fde2bd" stroke-width="0.7" stroke-linejoin="round"/>
<polygon points="295.12,320.56 328.03,304.11 333.64,306.91 300.73,323.37" fill="#53555a"/>
<polygon points="295.12,320.56 300.73,323.37 300.73,334.87 295.12,332.06" fill="#4b4d52"/>
<polygon points="300.97,337.18 308.45,340.92 308.45,342.22 300.97,338.48" fill="#4a4a4e"/>
<polygon points="300.97,334.58 308.45,338.32 308.45,339.62 300.97,335.88" fill="#4a4a4e"/>
<polygon points="300.97,331.98 308.45,335.72 308.45,337.02 300.97,333.28" fill="#4a4a4e"/>
<polygon points="311.01,329.31 318.46,325.59 318.46,335.59 311.01,339.31" fill="#ffffff"/>
<polygon points="311.96,330.34 317.51,327.57 317.51,328.87 311.96,331.64" fill="#55555a"/>
<polygon points="328.5,328.27 332.14,326.45 332.14,332.95 328.5,334.77" fill="#4a4a4e"/>
<polygon points="333.53,325.75 337.17,323.94 337.17,330.44 333.53,332.25" fill="#4a4a4e"/>
<polygon points="338.55,323.24 342.19,321.42 342.19,327.92 338.55,329.74" fill="#4a4a4e"/>
<polygon points="311.36,328.68 344.27,312.22 367.91,324.05 335,340.5" fill="#fad09a" stroke="#f6c58a" stroke-width="0.5" stroke-linejoin="round"/>
<polygon points="311.36,328.68 335,340.5 335,357 311.36,345.18" fill="#f4b670" stroke="#e9a75f" stroke-width="0.5" stroke-linejoin="round"/>
<polygon points="335,340.5 367.91,324.05 367.91,340.55 335,357" fill="#eea85e" stroke="#e39d54" stroke-width="0.5" stroke-linejoin="round"/>
<polyline points="311.36,328.98 335,340.8 367.91,324.35" fill="none" stroke="#fde2bd" stroke-width="0.7" stroke-linejoin="round"/>
<polygon points="319.63,332.82 352.54,316.36 358.22,319.2 325.31,335.65" fill="#53555a"/>
<polygon points="319.63,332.82 325.31,335.65 325.31,347.15 319.63,344.32" fill="#4b4d52"/>
<polygon points="325.54,349.47 333.11,353.25 333.11,354.55 325.54,350.77" fill="#4a4a4e"/>
<polygon points="325.54,346.87 333.11,350.65 333.11,351.95 325.54,348.17" fill="#4a4a4e"/>
<polygon points="325.54,344.27 333.11,348.05 333.11,349.35 325.54,345.57" fill="#4a4a4e"/>
<polygon points="335.69,341.65 343.14,337.93 343.14,347.93 335.69,351.65" fill="#ffffff"/>
<polygon points="336.65,342.68 342.19,339.91 342.19,341.21 336.65,343.98" fill="#55555a"/>
<polygon points="353.19,340.61 356.82,338.79 356.82,345.29 353.19,347.11" fill="#4a4a4e"/>
<polygon points="358.21,338.1 361.85,336.28 361.85,342.78 358.21,344.6" fill="#4a4a4e"/>
<polygon points="363.23,335.58 366.87,333.77 366.87,340.27 363.23,342.08" fill="#4a4a4e"/>
<polygon points="286.94,299.97 319.84,283.51 343.23,295.2 310.32,311.66" fill="#fad09a" stroke="#f6c58a" stroke-width="0.5" stroke-linejoin="round"/>
<polygon points="286.94,299.97 310.32,311.66 310.32,328.16 286.94,316.47" fill="#f4b670" stroke="#e9a75f" stroke-width="0.5" stroke-linejoin="round"/>
<polygon points="310.32,311.66 343.23,295.2 343.23,311.7 310.32,328.16" fill="#eea85e" stroke="#e39d54" stroke-width="0.5" stroke-linejoin="round"/>
<polyline points="286.94,300.27 310.32,311.96 343.23,295.5" fill="none" stroke="#fde2bd" stroke-width="0.7" stroke-linejoin="round"/>
<polygon points="295.12,304.06 328.03,287.61 333.64,290.41 300.73,306.87" fill="#53555a"/>
<polygon points="295.12,304.06 300.73,306.87 300.73,318.37 295.12,315.56" fill="#4b4d52"/>
<polygon points="300.97,320.68 308.45,324.42 308.45,325.72 300.97,321.98" fill="#4a4a4e"/>
<polygon points="300.97,318.08 308.45,321.82 308.45,323.12 300.97,319.38" fill="#4a4a4e"/>
<polygon points="300.97,315.48 308.45,319.22 308.45,320.52 300.97,316.78" fill="#4a4a4e"/>
<polygon points="311.01,312.81 318.46,309.09 318.46,319.09 311.01,322.81" fill="#ffffff"/>
<polygon points="311.96,313.84 317.51,311.07 317.51,312.37 311.96,315.14" fill="#55555a"/>
<polygon points="328.5,311.77 332.14,309.95 332.14,316.45 328.5,318.27" fill="#4a4a4e"/>
<polygon points="333.53,309.25 337.17,307.44 337.17,313.94 333.53,315.75" fill="#4a4a4e"/>
<polygon points="338.55,306.74 342.19,304.92 342.19,311.42 338.55,313.24" fill="#4a4a4e"/>
<polygon points="311.36,312.18 344.27,295.72 367.91,307.55 335,324" fill="#fad09a" stroke="#f6c58a" stroke-width="0.5" stroke-linejoin="round"/>
<polygon points="311.36,312.18 335,324 335,340.5 311.36,328.68" fill="#f4b670" stroke="#e9a75f" stroke-width="0.5" stroke-linejoin="round"/>
<polygon points="335,324 367.91,307.55 367.91,324.05 335,340.5" fill="#eea85e" stroke="#e39d54" stroke-width="0.5" stroke-linejoin="round"/>
<polyline points="311.36,312.48 335,324.3 367.91,307.85" fill="none" stroke="#fde2bd" stroke-width="0.7" stroke-linejoin="round"/>
<polygon points="319.63,316.32 352.54,299.86 358.22,302.7 325.31,319.15" fill="#53555a"/>
<polygon points="319.63,316.32 325.31,319.15 325.31,330.65 319.63,327.82" fill="#4b4d52"/>
<polygon points="325.54,332.97 333.11,336.75 333.11,338.05 325.54,334.27" fill="#4a4a4e"/>
<polygon points="325.54,330.37 333.11,334.15 333.11,335.45 325.54,331.67" fill="#4a4a4e"/>
<polygon points="325.54,327.77 333.11,331.55 333.11,332.85 325.54,329.07" fill="#4a4a4e"/>
<polygon points="335.69,325.15 343.14,321.43 343.14,331.43 335.69,335.15" fill="#ffffff"/>
<polygon points="336.65,326.18 342.19,323.41 342.19,324.71 336.65,327.48" fill="#55555a"/>
<polygon points="353.19,324.11 356.82,322.29 356.82,328.79 353.19,330.61" fill="#4a4a4e"/>
<polygon points="358.21,321.6 361.85,319.78 361.85,326.28 358.21,328.1" fill="#4a4a4e"/>
<polygon points="363.23,319.08 366.87,317.27 366.87,323.77 363.23,325.58" fill="#4a4a4e"/>
<polygon points="304.1,273 321.5,263.5 363,288.5 345.6,298" fill="#fad09a"/>
<polygon points="304.1,273 345.6,298 345.6,319.8 304.1,301.2" fill="#f4b670"/>
<polygon points="345.6,298 363,288.5 363,309.8 345.6,319.8" fill="#eea85e"/>
<polygon points="307.06,271.38 312.97,268.15 352.21,294.39 346.3,297.62" fill="#53555a"/>
<polygon points="346.3,297.62 352.21,294.39 352.21,302.89 346.3,306.12" fill="#4b4d52"/>
<polygon points="322.3,300.6 333,306 333,314.6 322.3,309.2" fill="#ffffff"/>
<polygon points="323.5,302.6 331.8,306.8 331.8,308.2 323.5,304" fill="#55555a"/>
<polygon points="336.2,310.2 345.2,314.5 345.2,316 336.2,311.7" fill="#4a4a4e"/>
<polygon points="336.2,312.9 345.2,317.2 345.2,318.7 336.2,314.4" fill="#4a4a4e"/>
<polygon points="336.2,315.6 345.2,319.9 345.2,321.4 336.2,317.1" fill="#4a4a4e"/>
<polygon points="382.5,259 397,259 397.5,274 400,292.5 405.6,322 396.25,322 392,310 388.75,292.5 386.25,276 383,286 381,310 379.4,323.5 369.4,323.5 370.25,286 372.5,275" fill="#146c90"/>
<path d="M368.6,324 C367.77,324.87 368.43,327.9 369,329 C369.57,330.1 370.83,330.5 372,330.6 C373.17,330.7 374.73,330.28 376,329.6 C377.27,328.92 379.03,327.63 379.6,326.5 C380.17,325.37 380.33,323.25 379.4,322.8 C378.47,322.35 375.8,323.6 374,323.8 C372.2,324 369.43,323.13 368.6,324Z" fill="#4a4a4c"/>
<path d="M390.8,327 C390.38,328.1 391.8,329.3 393,329.6 C394.2,329.9 396.33,329.4 398,328.8 C399.67,328.2 401.7,327.03 403,326 C404.3,324.97 405.47,323.5 405.8,322.6 C406.13,321.7 405.97,320.78 405,320.6 C404.03,320.42 401.58,321.1 400,321.5 C398.42,321.9 397.03,322.08 395.5,323 C393.97,323.92 391.22,325.9 390.8,327Z" fill="#4a4a4c"/>
<path d="M376.88,228.12 C374.69,228.54 373.12,232.08 371.88,233.75 C370.62,235.42 369.48,236.83 369.38,238.12 C369.27,239.42 370.21,241.15 371.25,241.5 C372.29,241.85 374.83,238.83 375.62,240.25 C376.42,241.67 374.44,247.85 376,250 C377.56,252.15 383.46,251.62 385,253.12 C386.54,254.62 384.58,257.9 385.25,259 C385.92,260.1 387.17,259.83 389,259.75 C390.83,259.67 394.56,260.12 396.25,258.5 C397.94,256.88 398.58,253.29 399.12,250 C399.67,246.71 399.98,241.77 399.5,238.75 C399.02,235.73 397.52,233.54 396.25,231.88 C394.98,230.21 393.75,228.85 391.88,228.75 C390,228.65 387.5,231.35 385,231.25 C382.5,231.15 379.06,227.71 376.88,228.12Z" fill="#e9212e"/>
<polygon points="376,229.38 379,228.5 378.5,236.88 384,239.5 392.5,230 395.38,232.25 385.88,242.12 385.88,252.5 388.75,259.75 385,259.38 377.5,247.5 375.75,240" fill="#146c90"/>
<circle cx="377.12" cy="237.5" r="0.65" fill="#e8f2f6"/>
<circle cx="383.5" cy="240.5" r="0.65" fill="#e8f2f6"/>
<polygon points="383.12,226.25 390,223.12 391.25,229.38 386.25,232.5 381.88,229.38" fill="#f7c8ad"/>
<path d="M385,213.75 C385.73,212.5 390.04,211.77 391.25,212.5 C392.46,213.23 392.46,216.56 392.25,218.12 C392.04,219.69 390.9,221.56 390,221.88 C389.1,222.19 387.71,221.35 386.88,220 C386.04,218.65 384.27,215 385,213.75Z" fill="#4d4548"/>
<path d="M379.38,220.62 C379.96,219.17 383.4,218.12 385,217.5 C386.6,216.88 388.12,216.15 389,216.88 C389.88,217.6 390.29,220.27 390.25,221.88 C390.21,223.48 389.62,225.4 388.75,226.5 C387.88,227.6 386.21,228.54 385,228.5 C383.79,228.46 382.44,227.56 381.5,226.25 C380.56,224.94 378.79,222.08 379.38,220.62Z" fill="#f7c8ad"/>
<path d="M376.88,209.75 C375.17,209.75 373.73,212.33 372.25,213.75 C370.77,215.17 368.06,217.08 368,218.25 C367.94,219.42 370.19,220.23 371.88,220.75 C373.56,221.27 376.1,221.58 378.12,221.38 C380.15,221.17 382.65,220.19 384,219.5 C385.35,218.81 386.5,218.21 386.25,217.25 C386,216.29 384.06,215 382.5,213.75 C380.94,212.5 378.58,209.75 376.88,209.75Z" fill="#1a5680"/>
<path d="M376.5,214 C375.88,212.67 376.6,210 377.5,208.5 C378.4,207 380.25,205.58 381.88,205 C383.5,204.42 385.69,204.42 387.25,205 C388.81,205.58 390.42,207.08 391.25,208.5 C392.08,209.92 392.27,212.08 392.25,213.5 C392.23,214.92 392.08,216.42 391.12,217 C390.17,217.58 388.15,217.08 386.5,217 C384.85,216.92 382.92,217 381.25,216.5 C379.58,216 377.12,215.33 376.5,214Z" fill="#1c5b86"/>
<polygon points="343.87,247.56 359.98,237.57 382.41,248.11 366.3,258.1" fill="#fad09a" stroke="#f6c58a" stroke-width="0.5" stroke-linejoin="round"/>
<polygon points="343.87,247.56 366.3,258.1 366.3,279.6 343.87,269.06" fill="#f4b670" stroke="#e9a75f" stroke-width="0.5" stroke-linejoin="round"/>
<polygon points="366.3,258.1 382.41,248.11 382.41,269.61 366.3,279.6" fill="#eea85e" stroke="#e39d54" stroke-width="0.5" stroke-linejoin="round"/>
<polyline points="343.87,247.86 366.3,258.4 382.41,248.41" fill="none" stroke="#fde2bd" stroke-width="0.7" stroke-linejoin="round"/>
<polygon points="349.98,243.77 353.87,241.36 376.3,251.9 372.41,254.31" fill="#53555a"/>
<polygon points="372.41,254.31 376.3,251.9 376.3,258.99 372.41,261.41" fill="#4b4d52"/>
<polygon points="345,251.69 350.45,254.25 350.45,261.75 345,259.19" fill="#ffffff"/>
<polygon points="345.78,253.35 349.67,255.18 349.67,256.48 345.78,254.65" fill="#55575d"/>
<polygon points="345.08,262.23 347.68,263.45 347.68,268.25 345.08,267.03" fill="#47494e"/>
<polygon points="348.72,263.94 351.32,265.16 351.32,269.96 348.72,268.74" fill="#47494e"/>
<polygon points="378.86,259.81 381.12,258.41 381.12,263.41 378.86,264.81" fill="#47494e"/>
<polygon points="367.6,275.49 372.36,272.54 372.36,273.64 367.6,276.59" fill="#47494e"/>
<polygon points="367.6,273.09 372.36,270.14 372.36,271.24 367.6,274.19" fill="#47494e"/>
<path d="M392.5,232.5 C394.06,231.35 396.96,233.75 398.12,235.62 C399.29,237.5 399.4,240.73 399.5,243.75 C399.6,246.77 399.29,251.29 398.75,253.75 C398.21,256.21 397.71,257.83 396.25,258.5 C394.79,259.17 391.56,258.85 390,257.75 C388.44,256.65 387.08,254.42 386.88,251.88 C386.67,249.33 387.81,245.73 388.75,242.5 C389.69,239.27 390.94,233.65 392.5,232.5Z" fill="#e9212e"/>
<path d="M387.25,250.62 C388.5,250.35 391.71,251.44 392.5,252.75 C393.29,254.06 393.67,256.42 392,258.5 C390.33,260.58 385.65,263.21 382.5,265.25 C379.35,267.29 375.62,269.42 373.12,270.75 C370.62,272.08 368.75,273.42 367.5,273.25 C366.25,273.08 365,270.88 365.62,269.75 C366.25,268.62 368.85,267.92 371.25,266.5 C373.65,265.08 377.71,263.27 380,261.25 C382.29,259.23 383.79,256.15 385,254.38 C386.21,252.6 386,250.9 387.25,250.62Z" fill="#f7c8ad"/>
<polygon points="281.65,271.5 292.91,265 319.76,280.5 308.5,287" fill="#fad09a" stroke="#f6c58a" stroke-width="0.5" stroke-linejoin="round"/>
<polygon points="281.65,271.5 308.5,287 308.5,304 281.65,288.5" fill="#f4b670" stroke="#e9a75f" stroke-width="0.5" stroke-linejoin="round"/>
<polygon points="308.5,287 319.76,280.5 319.76,297.5 308.5,304" fill="#eea85e" stroke="#e39d54" stroke-width="0.5" stroke-linejoin="round"/>
<polyline points="281.65,271.8 308.5,287.3 319.76,280.8" fill="none" stroke="#fde2bd" stroke-width="0.7" stroke-linejoin="round"/>
<polygon points="284.68,269.75 289.88,266.75 316.73,282.25 311.53,285.25" fill="#53555a"/>
<polygon points="311.53,285.25 316.73,282.25 316.73,290.25 311.53,293.25" fill="#4b4d52"/>
<polygon points="293.78,281 300.71,285 300.71,291 293.78,287" fill="#ffffff"/>
<polygon points="294.64,282.7 299.84,285.7 299.84,287 294.64,284" fill="#55575d"/>
<polygon points="301.14,292.25 303.91,293.85 303.91,299.35 301.14,297.75" fill="#47494e"/>
<polygon points="305.04,294.5 307.81,296.1 307.81,301.6 305.04,300" fill="#47494e"/>
<polygon points="264.4,300 289.4,300 291.9,325 293,355 293.75,377.5 282,377.5 280,340 277.5,328 275.6,340 274.4,368.75 264.4,368.75 263.75,340" fill="#146c90"/>
<path d="M263.6,366.5 C263.02,367.12 263.68,370.2 264.5,371.5 C265.32,372.8 266.92,374.13 268.5,374.3 C270.08,374.47 272.17,373.55 274,372.5 C275.83,371.45 278.53,369.2 279.5,368 C280.47,366.8 280.3,365.83 279.8,365.3 C279.3,364.77 277.55,364.43 276.5,364.8 C275.45,365.17 274.92,367 273.5,367.5 C272.08,368 269.65,367.97 268,367.8 C266.35,367.63 264.18,365.88 263.6,366.5Z" fill="#4a4a4c"/>
<path d="M281.6,376 C281.02,376.67 281.68,380.03 282.5,381.5 C283.32,382.97 284.83,384.55 286.5,384.8 C288.17,385.05 290.5,384.13 292.5,383 C294.5,381.87 297.48,379.33 298.5,378 C299.52,376.67 299.18,375.53 298.6,375 C298.02,374.47 296.02,374.42 295,374.8 C293.98,375.18 294,376.85 292.5,377.3 C291,377.75 287.82,377.72 286,377.5 C284.18,377.28 282.18,375.33 281.6,376Z" fill="#4a4a4c"/>
<polygon points="263,281.25 265.62,282.5 265.75,293.75 263.75,293.5 262.5,287.5" fill="#f7c8ad"/>
<path d="M266.88,270.25 C265.1,270.67 265.02,271.92 264.38,273.75 C263.73,275.58 262.9,279.54 263,281.25 C263.1,282.96 264.04,284.21 265,284 C265.96,283.79 266.67,280.46 268.75,280 C270.83,279.54 275.62,279.58 277.5,281.25 C279.38,282.92 278.96,287.5 280,290 C281.04,292.5 282.19,295.48 283.75,296.25 C285.31,297.02 288.1,295.88 289.38,294.62 C290.65,293.38 291.17,290.98 291.38,288.75 C291.58,286.52 291.27,283.54 290.62,281.25 C289.98,278.96 288.96,276.42 287.5,275 C286.04,273.58 283.96,273.38 281.88,272.75 C279.79,272.12 277.5,271.67 275,271.25 C272.5,270.83 268.65,269.83 266.88,270.25Z" fill="#f7931e"/>
<polygon points="266.88,270.25 270.5,270 271.5,275.25 275.62,277.5 279.38,276.5 279,272.25 282,272.75 280.62,280 281.88,290 285,297.5 288.12,302.5 289,310 277.5,311.5 264.5,308.75 265,296.25 265.75,283.75 266.5,276.25" fill="#146c90"/>
<path d="M265,307 Q276,311.5 288.6,309" fill="none" stroke="#2a8db0" stroke-width="1.6"/>
<path d="M281.88,272.88 C283.44,271.83 286.04,273.6 287.5,275 C288.96,276.4 289.98,278.96 290.62,281.25 C291.27,283.54 291.58,286.52 291.38,288.75 C291.17,290.98 290.65,293.38 289.38,294.62 C288.1,295.88 285.31,297.02 283.75,296.25 C282.19,295.48 280.94,292.5 280,290 C279.06,287.5 277.81,284.1 278.12,281.25 C278.44,278.4 280.31,273.92 281.88,272.88Z" fill="#f7931e"/>
<path d="M283.75,291.6 C284.72,290.93 287.5,291.87 290,292.6 C292.5,293.33 295.83,295.55 298.75,296 C301.67,296.45 305.36,294.97 307.5,295.3 C309.64,295.63 311.6,296.98 311.6,298 C311.6,299.02 309.64,300.83 307.5,301.4 C305.36,301.97 301.67,301.7 298.75,301.4 C295.83,301.1 292.43,300.4 290,299.6 C287.57,298.8 285.24,297.93 284.2,296.6 C283.16,295.27 282.78,292.27 283.75,291.6Z" fill="#f7c8ad"/>
<polygon points="275.62,266.88 283.12,266.25 283.75,271.25 280,273.12 275,271.88" fill="#f7c8ad"/>
<path d="M280,259.38 C280.9,258.54 283.75,259.17 284.75,260 C285.75,260.83 286,262.96 286,264.38 C286,265.79 285.54,267.67 284.75,268.5 C283.96,269.33 282.15,269.96 281.25,269.38 C280.35,268.79 279.58,266.67 279.38,265 C279.17,263.33 279.1,260.21 280,259.38Z" fill="#f7c8ad"/>
<path d="M270.38,260 C272.04,258.96 279.33,258.54 281.25,259.38 C283.17,260.21 282.08,263.4 281.88,265 C281.67,266.6 281.15,268.33 280,269 C278.85,269.67 276.46,269.56 275,269 C273.54,268.44 272.02,267.12 271.25,265.62 C270.48,264.12 268.71,261.04 270.38,260Z" fill="#4d4548"/>
<path d="M282.75,251.25 C283.73,250.62 286.81,250.83 288.12,251.25 C289.44,251.67 290.48,252.88 290.62,253.75 C290.77,254.62 290.1,255.62 289,256.5 C287.9,257.38 285.12,259.25 284,259 C282.88,258.75 282.46,256.29 282.25,255 C282.04,253.71 281.77,251.88 282.75,251.25Z" fill="#1a5680"/>
<path d="M269,259.38 C268.42,258.04 268,255.48 268.38,253.75 C268.75,252.02 269.94,250.15 271.25,249 C272.56,247.85 274.58,247.12 276.25,246.88 C277.92,246.62 279.94,246.98 281.25,247.5 C282.56,248.02 283.58,248.92 284.12,250 C284.67,251.08 284.67,252.58 284.5,254 C284.33,255.42 284.29,257.25 283.12,258.5 C281.96,259.75 279.38,260.96 277.5,261.5 C275.62,262.04 273.29,262.1 271.88,261.75 C270.46,261.4 269.58,260.71 269,259.38Z" fill="#1c5b86"/>
<polygon points="712.5,274 729,274 745,300 745,310 745,352 732,352 730,310 727.5,294 723,310 713,349 701.25,347.5 708.75,310 711,290" fill="#146c90"/>
<path d="M700.62,347 C699.9,347.25 700.73,349.81 701.88,351.25 C703.02,352.69 705.21,354.48 707.5,355.62 C709.79,356.77 713.71,357.85 715.62,358.12 C717.54,358.4 718.79,357.98 719,357.25 C719.21,356.52 718.06,354.92 716.88,353.75 C715.69,352.58 713.65,350.92 711.88,350.25 C710.1,349.58 708.12,350.29 706.25,349.75 C704.38,349.21 701.35,346.75 700.62,347Z" fill="#4a4a4c"/>
<path d="M731.88,351.5 C731.15,351.81 731.88,353.79 733.12,355 C734.38,356.21 736.77,357.79 739.38,358.75 C741.98,359.71 746.62,360.58 748.75,360.75 C750.88,360.92 752.12,360.6 752.12,359.75 C752.12,358.9 750.15,356.88 748.75,355.62 C747.35,354.38 745.62,352.67 743.75,352.25 C741.88,351.83 739.48,353.25 737.5,353.12 C735.52,353 732.6,351.19 731.88,351.5Z" fill="#4a4a4c"/>
<polygon points="713.75,241.25 717,240 726.25,251 732.5,247.5 732.75,237.5 735.75,238.12 736.5,246.88 735,275 733.12,290 711.88,290 712.5,272.5 715,260" fill="#146c90"/>
<polygon points="727.5,240 732.75,237.75 733.12,247.5 727.5,250" fill="#f7931e"/>
<path d="M735,238.5 C735.42,237.25 737.25,238.5 738.12,239.38 C739,240.25 740.35,242.4 740.25,243.75 C740.15,245.1 738.27,246.98 737.5,247.5 C736.73,248.02 736.04,248.38 735.62,246.88 C735.21,245.38 734.58,239.75 735,238.5Z" fill="#f7931e"/>
<polygon points="711.88,263.75 721.88,265 721.25,272.5 712.5,272.5" fill="#f7931e"/>
<path d="M713.5,242.25 C712.21,243.5 710.29,246.42 709.5,248.75 C708.71,251.08 708.35,253.54 708.75,256.25 C709.15,258.96 710.52,263.08 711.88,265 C713.23,266.92 714.9,267.92 716.88,267.75 C718.85,267.58 722.15,265.92 723.75,264 C725.35,262.08 726.67,259.21 726.5,256.25 C726.33,253.29 724.29,248.75 722.75,246.25 C721.21,243.75 718.79,241.92 717.25,241.25 C715.71,240.58 714.79,241 713.5,242.25Z" fill="#f7931e"/>
<polygon points="713.5,241.5 717,240 727.5,250.25 727.75,255 725.62,253.75" fill="#146c90"/>
<circle cx="727.88" cy="251.62" r="0.7" fill="#e8f2f6"/>
<path d="M719.38,225.62 C721.71,225.12 730.15,227.06 732.5,228.25 C734.85,229.44 733.67,231.29 733.5,232.75 C733.33,234.21 732.08,235.54 731.5,237 C730.92,238.46 731.4,240.67 730,241.5 C728.6,242.33 724.79,242.67 723.12,242 C721.46,241.33 720.77,239.29 720,237.5 C719.23,235.71 718.6,233.23 718.5,231.25 C718.4,229.27 717.04,226.12 719.38,225.62Z" fill="#f7c8ad"/>
<path d="M718.5,224.5 C718.12,223.08 717.19,219.6 717.75,217.5 C718.31,215.4 720,213.17 721.88,211.88 C723.75,210.58 726.77,209.65 729,209.75 C731.23,209.85 733.67,211 735.25,212.5 C736.83,214 737.96,216.67 738.5,218.75 C739.04,220.83 738.92,223.46 738.5,225 C738.08,226.54 737.21,227.42 736,228 C734.79,228.58 733.08,228.58 731.25,228.5 C729.42,228.42 726.88,227.92 725,227.5 C723.12,227.08 721.08,226.5 720,226 C718.92,225.5 718.88,225.92 718.5,224.5Z" fill="#f6a338"/>
<path d="M721.25,215 C721.98,213.38 724.58,212.08 726.25,211.5 C727.92,210.92 731.04,210.81 731.25,211.5 C731.46,212.19 728.65,214 727.5,215.62 C726.35,217.25 725.31,220.31 724.38,221.25 C723.44,222.19 722.4,222.29 721.88,221.25 C721.35,220.21 720.52,216.62 721.25,215Z" fill="#f9b95e"/>
<path d="M719,223.75 Q727.5,227.75 738.25,224.5" fill="none" stroke="#e58f25" stroke-width="0.8"/>
<polygon points="729.99,261.85 753.02,248.55 773.64,260.45 750.6,273.75" fill="#fad09a" stroke="#f6c58a" stroke-width="0.5" stroke-linejoin="round"/>
<polygon points="729.99,261.85 750.6,273.75 750.6,301.25 729.99,289.35" fill="#f4b670" stroke="#e9a75f" stroke-width="0.5" stroke-linejoin="round"/>
<polygon points="750.6,273.75 773.64,260.45 773.64,287.95 750.6,301.25" fill="#eea85e" stroke="#e39d54" stroke-width="0.5" stroke-linejoin="round"/>
<polyline points="729.99,262.15 750.6,274.05 773.64,260.75" fill="none" stroke="#fde2bd" stroke-width="0.7" stroke-linejoin="round"/>
<polygon points="738.35,266.68 761.38,253.38 765.28,255.62 742.24,268.93" fill="#53555a"/>
<polygon points="738.35,266.68 742.24,268.93 742.24,278.93 738.35,276.68" fill="#4b4d52"/>
<polygon points="764.02,269.5 771.38,265.25 771.38,274.25 764.02,278.5" fill="#ffffff"/>
<polygon points="764.89,270.7 770.52,267.45 770.52,268.85 764.89,272.1" fill="#55575d"/>
<polygon points="763.16,285 766.62,283 766.62,289 763.16,291" fill="#47494e"/>
<polygon points="768.35,282 771.82,280 771.82,286 768.35,288" fill="#47494e"/>
<polygon points="741.32,291.59 748.54,295.76 748.54,297.06 741.32,292.89" fill="#47494e"/>
<polygon points="741.32,289 748.54,293.16 748.54,294.46 741.32,290.29" fill="#47494e"/>
<polygon points="731.72,280.35 735.18,282.35 735.18,288.35 731.72,286.35" fill="#47494e"/>
<polygon points="732.49,248.2 753.27,236.2 766.78,244 746,256" fill="#fad09a" stroke="#f6c58a" stroke-width="0.5" stroke-linejoin="round"/>
<polygon points="732.49,248.2 746,256 746,265.4 732.49,257.6" fill="#f4b670" stroke="#e9a75f" stroke-width="0.5" stroke-linejoin="round"/>
<polygon points="746,256 766.78,244 766.78,253.4 746,265.4" fill="#eea85e" stroke="#e39d54" stroke-width="0.5" stroke-linejoin="round"/>
<polyline points="732.49,248.5 746,256.3 766.78,244.3" fill="none" stroke="#fde2bd" stroke-width="0.7" stroke-linejoin="round"/>
<polygon points="737.51,251.1 758.3,239.1 761.76,241.1 740.98,253.1" fill="#53555a"/>
<polygon points="737.51,251.1 740.98,253.1 740.98,257.8 737.51,255.8" fill="#4b4d52"/>
<polygon points="749.46,256.4 757.26,251.9 757.26,256.4 749.46,260.9" fill="#ffffff"/>
<polygon points="750.33,256.7 756.39,253.2 756.39,254.2 750.33,257.7" fill="#55575d"/>
<polygon points="762.45,249.4 765.05,247.9 765.05,251.9 762.45,253.4" fill="#47494e"/>
<path d="M716.88,267.25 C717.15,265.29 721.73,263.83 723.5,264.5 C725.27,265.17 725.58,268.67 727.5,271.25 C729.42,273.83 732.29,277.81 735,280 C737.71,282.19 741.46,283.23 743.75,284.38 C746.04,285.52 747.92,285.94 748.75,286.88 C749.58,287.81 749.38,289.17 748.75,290 C748.12,290.83 746.67,291.88 745,291.88 C743.33,291.88 741.25,291.15 738.75,290 C736.25,288.85 732.81,287.29 730,285 C727.19,282.71 724.06,279.21 721.88,276.25 C719.69,273.29 716.6,269.21 716.88,267.25Z" fill="#f7c8ad"/>
<text x="44.28" y="89.3" font-family="Liberation Sans, sans-serif" font-weight="bold" font-size="34" fill="#f06b13" stroke="#f06b13" stroke-width="0.3" textLength="102.62" lengthAdjust="spacingAndGlyphs">Lorem</text>
<text x="155" y="89.3" font-family="Liberation Sans, sans-serif" font-weight="bold" font-size="34" fill="#f06b13" stroke="#f06b13" stroke-width="0.3" textLength="70.48" lengthAdjust="spacingAndGlyphs">Tính</text>
<text x="232.9" y="89.3" font-family="Liberation Sans, sans-serif" font-weight="bold" font-size="34" fill="#f06b13" stroke="#f06b13" stroke-width="0.3" textLength="85.44" lengthAdjust="spacingAndGlyphs">năng</text>
<text x="324.97" y="89.3" font-family="Liberation Sans, sans-serif" font-weight="bold" font-size="34" fill="#f06b13" stroke="#f06b13" stroke-width="0.3" textLength="83.3" lengthAdjust="spacingAndGlyphs">quản</text>
<text x="44.52" y="132.4" font-family="Liberation Sans, sans-serif" font-weight="bold" font-size="34" fill="#18668a" stroke="#18668a" stroke-width="0.3" textLength="24.54" lengthAdjust="spacingAndGlyphs">lý</text>
<text x="75.45" y="132.4" font-family="Liberation Sans, sans-serif" font-weight="bold" font-size="34" fill="#18668a" stroke="#18668a" stroke-width="0.3" textLength="62.04" lengthAdjust="spacingAndGlyphs">kho</text>
<text x="146" y="132.4" font-family="Liberation Sans, sans-serif" font-weight="bold" font-size="34" fill="#18668a" stroke="#18668a" stroke-width="0.3" textLength="71.49" lengthAdjust="spacingAndGlyphs">trên</text>
<text x="226.54" y="132.4" font-family="Liberation Sans, sans-serif" font-weight="bold" font-size="34" fill="#18668a" stroke="#18668a" stroke-width="0.3" textLength="74.56" lengthAdjust="spacingAndGlyphs">CRM</text>
<path d="M598,68.6 V53.6 H604 L619.4,63.6 V53.6 H623.75 V68.6 H617.8 L602.4,58.6 V68.6 Z" fill="#151515"/>
<path d="M642.5,55.35 L629.5,55.35 Q627.5,55.35 627.5,57.35 L627.5,64.85 Q627.5,66.85 629.5,66.85 L642.5,66.85" fill="none" stroke="#151515" stroke-width="3.4" stroke-linejoin="round" stroke-linecap="butt"/>
<path d="M627.5,61.1 L641.5,61.1" fill="none" stroke="#151515" stroke-width="3" stroke-linejoin="round" stroke-linecap="butt"/>
<path d="M645.5,53.6 L651.5,53.6 L671,68.6 L664.5,68.6 Z" fill="#1f9a3c"/>
<path d="M643.6,68.6 L650,68.6 C662,57 690,45.5 742,42.3 C700,42.8 668,50 643.6,68.6 Z" fill="#1f9a3c"/>
<path d="M671.5,55.35 L687,55.35" fill="none" stroke="#151515" stroke-width="3.4" stroke-linejoin="round" stroke-linecap="butt"/>
<path d="M679,55.35 L679,68.6" fill="none" stroke="#151515" stroke-width="4.4" stroke-linejoin="round" stroke-linecap="butt"/>
<path d="M712.5,55.35 L698.75,55.35 Q695.75,55.35 695.75,58.35 L695.75,63.85 Q695.75,66.85 698.75,66.85 L712.5,66.85" fill="none" stroke="#151515" stroke-width="3.8" stroke-linejoin="round" stroke-linecap="butt"/>
<path d="M716.5,68.6 L716.5,55.35 L727.6,55.35 Q730.6,55.35 730.6,57.85 L730.6,59.2 Q730.6,61.7 727.6,61.7 L716.5,61.7" fill="none" stroke="#151515" stroke-width="3.8" stroke-linejoin="round" stroke-linecap="butt"/>
<path d="M721.8,62 L726.6,62 L733,68.6 L727.8,68.6 Z" fill="#151515"/>
<path d="M734.4,68.6 V53.6 H740.4 L745.3,62.6 L750.2,53.6 H756.25 V68.6 H751.9 V59.2 L746.9,68 H743.7 L738.7,59.2 V68.6 Z" fill="#151515"/>
</svg>
</body></html>
